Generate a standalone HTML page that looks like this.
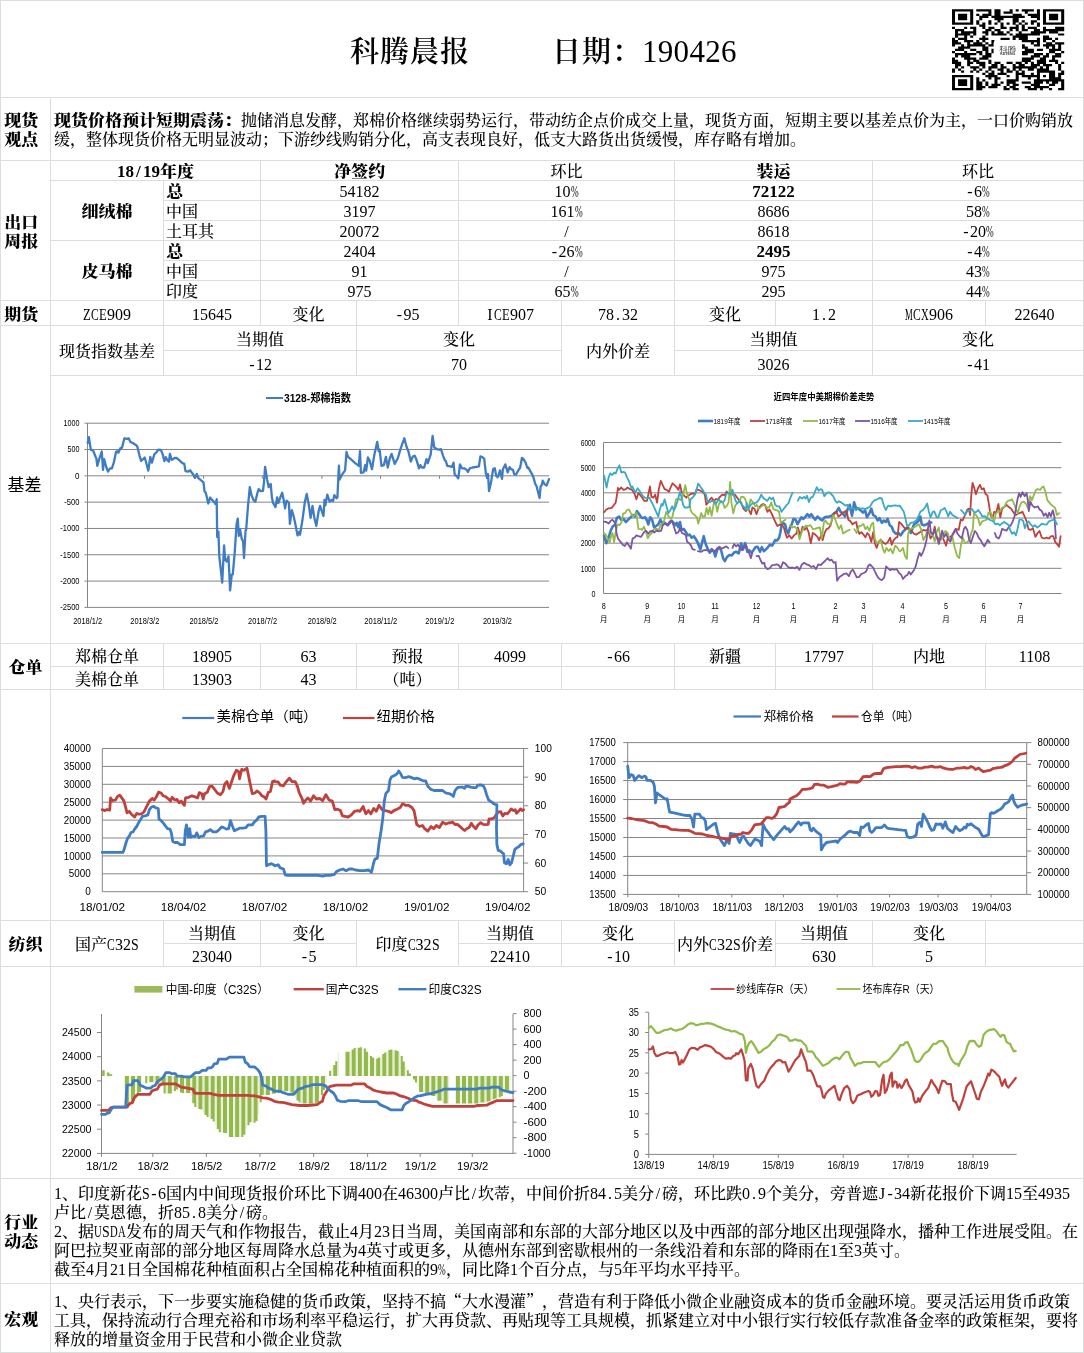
<!DOCTYPE html>
<html lang="zh-CN">
<head>
<meta charset="utf-8">
<title>科腾晨报</title>
<style>
*{margin:0;padding:0;box-sizing:border-box}
html,body{width:1084px;height:1353px;background:#fff;overflow:hidden}
body{position:relative;text-spacing-trim:space-all;font-family:"Liberation Serif","Noto Serif CJK SC",serif;font-size:16px;color:#000;line-height:19px;font-weight:500}
.h,.v{position:absolute;background:#dcdedd}
.h{height:1px}.v{width:1px}
.c{position:absolute;display:flex;align-items:center;justify-content:center;text-align:center;white-space:nowrap}
.c.b,b{font-weight:900;transform:scaleX(1.0625)}
b{display:inline-block;transform-origin:0 50%;margin-right:11px}
.a{display:inline-block;width:8px;text-align:center;transform-origin:0 50%;letter-spacing:0}
b .a,.b .a{width:8.5px}
.q{font-family:"Noto Serif CJK SC",serif}
.cc{justify-content:center !important;padding-left:0 !important;font-weight:normal !important;letter-spacing:0 !important}
.c.l{justify-content:flex-start;text-align:left;padding-left:3px;transform-origin:0 50%}
.c.lft{justify-content:flex-start;padding-left:2px;transform-origin:0 50%}
.t{position:absolute;white-space:nowrap}
.p{position:absolute;left:54px;white-space:nowrap;line-height:19px}
svg{position:absolute;overflow:visible}
svg text{font-family:"Liberation Sans","Noto Sans CJK SC",sans-serif}
.wp{transform:scaleX(0.578)}
.wC{transform:scaleX(0.722)}
.wS{transform:scaleX(0.864)}
.wZ{transform:scaleX(0.787)}
.wE{transform:scaleX(0.787)}
.wM{transform:scaleX(0.541)}
.wX{transform:scaleX(0.666)}
.wU{transform:scaleX(0.666)}
.wD{transform:scaleX(0.666)}
.wA{transform:scaleX(0.666)}
</style>
</head>
<body>
<div class="h" style="left:0px;top:0px;width:1084px"></div>
<div class="h" style="left:0px;top:97px;width:1084px"></div>
<div class="h" style="left:0px;top:160px;width:1084px"></div>
<div class="h" style="left:50px;top:180px;width:1034px"></div>
<div class="h" style="left:163px;top:200px;width:921px"></div>
<div class="h" style="left:163px;top:220px;width:921px"></div>
<div class="h" style="left:50px;top:240px;width:1034px"></div>
<div class="h" style="left:163px;top:260px;width:921px"></div>
<div class="h" style="left:163px;top:280px;width:921px"></div>
<div class="h" style="left:0px;top:300px;width:1084px"></div>
<div class="h" style="left:0px;top:325px;width:1084px"></div>
<div class="h" style="left:163px;top:350px;width:398px"></div>
<div class="h" style="left:674px;top:350px;width:410px"></div>
<div class="h" style="left:50px;top:375px;width:1034px"></div>
<div class="h" style="left:0px;top:643px;width:1084px"></div>
<div class="h" style="left:50px;top:666px;width:1034px"></div>
<div class="h" style="left:0px;top:689px;width:1084px"></div>
<div class="h" style="left:0px;top:920px;width:1084px"></div>
<div class="h" style="left:163px;top:943px;width:193px"></div>
<div class="h" style="left:458px;top:943px;width:216px"></div>
<div class="h" style="left:775px;top:943px;width:309px"></div>
<div class="h" style="left:0px;top:966px;width:1084px"></div>
<div class="h" style="left:0px;top:1178px;width:1084px"></div>
<div class="h" style="left:0px;top:1283px;width:1084px"></div>
<div class="h" style="left:0px;top:1352px;width:1084px"></div>
<div class="v" style="left:0px;top:0px;height:1353px"></div>
<div class="v" style="left:1083px;top:0px;height:1353px"></div>
<div class="v" style="left:50px;top:97px;height:1256px"></div>
<div class="v" style="left:163px;top:180px;height:195px"></div>
<div class="v" style="left:163px;top:643px;height:46px"></div>
<div class="v" style="left:163px;top:920px;height:46px"></div>
<div class="v" style="left:260px;top:160px;height:165px"></div>
<div class="v" style="left:260px;top:643px;height:46px"></div>
<div class="v" style="left:260px;top:920px;height:46px"></div>
<div class="v" style="left:356px;top:300px;height:75px"></div>
<div class="v" style="left:356px;top:643px;height:46px"></div>
<div class="v" style="left:356px;top:920px;height:46px"></div>
<div class="v" style="left:458px;top:160px;height:165px"></div>
<div class="v" style="left:458px;top:643px;height:46px"></div>
<div class="v" style="left:458px;top:920px;height:46px"></div>
<div class="v" style="left:561px;top:300px;height:75px"></div>
<div class="v" style="left:561px;top:643px;height:46px"></div>
<div class="v" style="left:561px;top:920px;height:46px"></div>
<div class="v" style="left:674px;top:160px;height:215px"></div>
<div class="v" style="left:674px;top:643px;height:46px"></div>
<div class="v" style="left:674px;top:920px;height:46px"></div>
<div class="v" style="left:775px;top:300px;height:25px"></div>
<div class="v" style="left:775px;top:643px;height:46px"></div>
<div class="v" style="left:775px;top:920px;height:46px"></div>
<div class="v" style="left:872px;top:160px;height:215px"></div>
<div class="v" style="left:872px;top:643px;height:46px"></div>
<div class="v" style="left:872px;top:920px;height:46px"></div>
<div class="v" style="left:985px;top:300px;height:25px"></div>
<div class="v" style="left:985px;top:643px;height:46px"></div>
<div class="v" style="left:985px;top:920px;height:46px"></div>
<div class="t" style="left:350px;top:34px;font-size:29px;letter-spacing:1px;line-height:36px;font-weight:600">科腾晨报</div>
<div class="t" style="left:552px;top:34px;font-size:29px;letter-spacing:1px;line-height:36px;font-weight:600">日期：<span style="font-size:31px;letter-spacing:0.3px;font-weight:500">190426</span></div>
<div class="c b l" style="left:1px;top:99px;width:49px;height:62px;">现货<br>观点</div>
<div class="c b l" style="left:1px;top:162px;width:49px;height:139px;">出口<br>周报</div>
<div class="c b l" style="left:1px;top:302px;width:49px;height:24px;">期货</div>
<div class="c cc" style="left:1px;top:327px;width:49px;height:317px;font-family:'Liberation Sans','Noto Sans CJK SC',sans-serif;font-size:17px;padding-right:2px !important;">基差</div>
<div class="c b" style="left:1px;top:645px;width:49px;height:45px;">仓单</div>
<div class="c b" style="left:1px;top:922px;width:49px;height:45px;">纺织</div>
<div class="c b l" style="left:1px;top:1180px;width:49px;height:104px;">行业<br>动态</div>
<div class="c b l" style="left:1px;top:1285px;width:49px;height:68px;">宏观</div>
<div class="c b" style="left:51px;top:162px;width:209px;height:19px;">18<span class="a">/</span>19年度</div>
<div class="c b" style="left:261px;top:162px;width:197px;height:19px;">净签约</div>
<div class="c " style="left:459px;top:162px;width:215px;height:19px;">环比</div>
<div class="c b" style="left:675px;top:162px;width:197px;height:19px;">装运</div>
<div class="c " style="left:873px;top:162px;width:210px;height:19px;">环比</div>
<div class="c b" style="left:51px;top:182px;width:112px;height:59px;">细绒棉</div>
<div class="c b" style="left:51px;top:242px;width:112px;height:59px;">皮马棉</div>
<div class="c lft b" style="left:164px;top:182px;width:96px;height:19px;">总</div>
<div class="c n" style="left:261px;top:182px;width:197px;height:19px;">54182</div>
<div class="c n" style="left:459px;top:182px;width:215px;height:19px;">10<span class="a wp">%</span></div>
<div class="c n b" style="left:675px;top:182px;width:197px;height:19px;">72122</div>
<div class="c n" style="left:873px;top:182px;width:210px;height:19px;"><span class="a">-</span>6<span class="a wp">%</span></div>
<div class="c lft" style="left:164px;top:202px;width:96px;height:19px;">中国</div>
<div class="c n" style="left:261px;top:202px;width:197px;height:19px;">3197</div>
<div class="c n" style="left:459px;top:202px;width:215px;height:19px;">161<span class="a wp">%</span></div>
<div class="c n" style="left:675px;top:202px;width:197px;height:19px;">8686</div>
<div class="c n" style="left:873px;top:202px;width:210px;height:19px;">58<span class="a wp">%</span></div>
<div class="c lft" style="left:164px;top:222px;width:96px;height:19px;">土耳其</div>
<div class="c n" style="left:261px;top:222px;width:197px;height:19px;">20072</div>
<div class="c n" style="left:459px;top:222px;width:215px;height:19px;"><span class="a">/</span></div>
<div class="c n" style="left:675px;top:222px;width:197px;height:19px;">8618</div>
<div class="c n" style="left:873px;top:222px;width:210px;height:19px;"><span class="a">-</span>20<span class="a wp">%</span></div>
<div class="c lft b" style="left:164px;top:242px;width:96px;height:19px;">总</div>
<div class="c n" style="left:261px;top:242px;width:197px;height:19px;">2404</div>
<div class="c n" style="left:459px;top:242px;width:215px;height:19px;"><span class="a">-</span>26<span class="a wp">%</span></div>
<div class="c n b" style="left:675px;top:242px;width:197px;height:19px;">2495</div>
<div class="c n" style="left:873px;top:242px;width:210px;height:19px;"><span class="a">-</span>4<span class="a wp">%</span></div>
<div class="c lft" style="left:164px;top:262px;width:96px;height:19px;">中国</div>
<div class="c n" style="left:261px;top:262px;width:197px;height:19px;">91</div>
<div class="c n" style="left:459px;top:262px;width:215px;height:19px;"><span class="a">/</span></div>
<div class="c n" style="left:675px;top:262px;width:197px;height:19px;">975</div>
<div class="c n" style="left:873px;top:262px;width:210px;height:19px;">43<span class="a wp">%</span></div>
<div class="c lft" style="left:164px;top:282px;width:96px;height:19px;">印度</div>
<div class="c n" style="left:261px;top:282px;width:197px;height:19px;">975</div>
<div class="c n" style="left:459px;top:282px;width:215px;height:19px;">65<span class="a wp">%</span></div>
<div class="c n" style="left:675px;top:282px;width:197px;height:19px;">295</div>
<div class="c n" style="left:873px;top:282px;width:210px;height:19px;">44<span class="a wp">%</span></div>
<div class="c " style="left:51px;top:302px;width:112px;height:24px;"><span class="a wZ">Z</span><span class="a wC">C</span><span class="a wE">E</span>909</div>
<div class="c " style="left:164px;top:302px;width:96px;height:24px;">15645</div>
<div class="c " style="left:261px;top:302px;width:95px;height:24px;">变化</div>
<div class="c " style="left:357px;top:302px;width:101px;height:24px;"><span class="a">-</span>95</div>
<div class="c " style="left:459px;top:302px;width:102px;height:24px;"><span class="a">I</span><span class="a wC">C</span><span class="a wE">E</span>907</div>
<div class="c " style="left:562px;top:302px;width:112px;height:24px;">78<span class="a">.</span>32</div>
<div class="c " style="left:675px;top:302px;width:100px;height:24px;">变化</div>
<div class="c " style="left:776px;top:302px;width:96px;height:24px;">1<span class="a">.</span>2</div>
<div class="c " style="left:873px;top:302px;width:112px;height:24px;"><span class="a wM">M</span><span class="a wC">C</span><span class="a wX">X</span>906</div>
<div class="c " style="left:986px;top:302px;width:97px;height:24px;">22640</div>
<div class="c " style="left:51px;top:327px;width:112px;height:49px;">现货指数基差</div>
<div class="c " style="left:164px;top:327px;width:192px;height:24px;">当期值</div>
<div class="c " style="left:357px;top:327px;width:204px;height:24px;">变化</div>
<div class="c " style="left:164px;top:352px;width:192px;height:24px;"><span class="a">-</span>12</div>
<div class="c " style="left:357px;top:352px;width:204px;height:24px;">70</div>
<div class="c " style="left:562px;top:327px;width:112px;height:49px;">内外价差</div>
<div class="c " style="left:675px;top:327px;width:197px;height:24px;">当期值</div>
<div class="c " style="left:873px;top:327px;width:210px;height:24px;">变化</div>
<div class="c " style="left:675px;top:352px;width:197px;height:24px;">3026</div>
<div class="c " style="left:873px;top:352px;width:210px;height:24px;"><span class="a">-</span>41</div>
<div class="c " style="left:51px;top:645px;width:112px;height:22px;">郑棉仓单</div>
<div class="c " style="left:164px;top:645px;width:96px;height:22px;">18905</div>
<div class="c " style="left:261px;top:645px;width:95px;height:22px;">63</div>
<div class="c " style="left:357px;top:645px;width:101px;height:22px;">预报</div>
<div class="c " style="left:459px;top:645px;width:102px;height:22px;">4099</div>
<div class="c " style="left:562px;top:645px;width:112px;height:22px;"><span class="a">-</span>66</div>
<div class="c " style="left:675px;top:645px;width:100px;height:22px;">新疆</div>
<div class="c " style="left:776px;top:645px;width:96px;height:22px;">17797</div>
<div class="c " style="left:873px;top:645px;width:112px;height:22px;">内地</div>
<div class="c " style="left:986px;top:645px;width:97px;height:22px;">1108</div>
<div class="c " style="left:51px;top:668px;width:112px;height:22px;">美棉仓单</div>
<div class="c " style="left:164px;top:668px;width:96px;height:22px;">13903</div>
<div class="c " style="left:261px;top:668px;width:95px;height:22px;">43</div>
<div class="c " style="left:357px;top:668px;width:101px;height:22px;">（吨）</div>
<div class="c " style="left:51px;top:922px;width:112px;height:45px;">国产<span class="a wC">C</span>32<span class="a wS">S</span></div>
<div class="c " style="left:164px;top:922px;width:96px;height:22px;">当期值</div>
<div class="c " style="left:261px;top:922px;width:95px;height:22px;">变化</div>
<div class="c " style="left:164px;top:945px;width:96px;height:22px;">23040</div>
<div class="c " style="left:261px;top:945px;width:95px;height:22px;"><span class="a">-</span>5</div>
<div class="c " style="left:357px;top:922px;width:101px;height:45px;">印度<span class="a wC">C</span>32<span class="a wS">S</span></div>
<div class="c " style="left:459px;top:922px;width:102px;height:22px;">当期值</div>
<div class="c " style="left:562px;top:922px;width:112px;height:22px;">变化</div>
<div class="c " style="left:459px;top:945px;width:102px;height:22px;">22410</div>
<div class="c " style="left:562px;top:945px;width:112px;height:22px;"><span class="a">-</span>10</div>
<div class="c " style="left:675px;top:922px;width:100px;height:45px;">内外<span class="a wC">C</span>32<span class="a wS">S</span>价差</div>
<div class="c " style="left:776px;top:922px;width:96px;height:22px;">当期值</div>
<div class="c " style="left:873px;top:922px;width:112px;height:22px;">变化</div>
<div class="c " style="left:776px;top:945px;width:96px;height:22px;">630</div>
<div class="c " style="left:873px;top:945px;width:112px;height:22px;">5</div>
<div class="p" style="top:111px"><b>现货价格预计短期震荡：</b>抛储消息发酵，郑棉价格继续弱势运行，带动纺企点价成交上量，现货方面，短期主要以基差点价为主，一口价购销放<br>缓，整体现货价格无明显波动；下游纱线购销分化，高支表现良好，低支大路货出货缓慢，库存略有增加。</div>
<div class="p" style="top:1184px">1、印度新花<span class="a wS">S</span><span class="a">-</span>6国内中间现货报价环比下调400在46300卢比<span class="a">/</span>坎蒂，中间价折84<span class="a">.</span>5美分<span class="a">/</span>磅，环比跌0<span class="a">.</span>9个美分，旁普遮<span class="a">J</span><span class="a">-</span>34新花报价下调15至4935<br>卢比<span class="a">/</span>莫恩德，折85<span class="a">.</span>8美分<span class="a">/</span>磅。<br>2、据<span class="a wU">U</span><span class="a wS">S</span><span class="a wD">D</span><span class="a wA">A</span>发布的周天气和作物报告，截止4月23日当周，美国南部和东部的大部分地区以及中西部的部分地区出现强降水，播种工作进展受阻。在<br>阿巴拉契亚南部的部分地区每周降水总量为4英寸或更多，从德州东部到密歇根州的一条线沿着和东部的降雨在1至3英寸。<br>截至4月21日全国棉花种植面积占全国棉花种植面积的9<span class="a wp">%</span>，同比降1个百分点，与5年平均水平持平。</div>
<div class="p" style="top:1291px">1、央行表示，下一步要实施稳健的货币政策，坚持不搞<span class="q">“</span>大水漫灌<span class="q">”</span>，营造有利于降低小微企业融资成本的货币金融环境。要灵活运用货币政策<br>工具，保持流动行合理充裕和市场利率平稳运行，扩大再贷款、再贴现等工具规模，抓紧建立对中小银行实行较低存款准备金率的政策框架，要将<br>释放的增量资金用于民营和小微企业贷款</div>
<svg width="1084" height="100" viewBox="0 0 1084 100" style="left:0;top:0">
<path d="M952.00 9.30h21.23v2.24h-21.23zM976.26 9.30h15.16v2.24h-15.16zM994.45 9.30h6.06v2.24h-6.06zM1009.62 9.30h3.03v2.24h-3.03zM1015.68 9.30h3.03v2.24h-3.03zM1021.75 9.30h12.13v2.24h-12.13zM1036.91 9.30h3.03v2.24h-3.03zM1042.97 9.30h21.23v2.24h-21.23zM952.00 11.49h3.03v2.24h-3.03zM970.19 11.49h3.03v2.24h-3.03zM988.39 11.49h3.03v2.24h-3.03zM994.45 11.49h6.06v2.24h-6.06zM1003.55 11.49h9.10v2.24h-9.10zM1024.78 11.49h3.03v2.24h-3.03zM1036.91 11.49h3.03v2.24h-3.03zM1042.97 11.49h3.03v2.24h-3.03zM1061.17 11.49h3.03v2.24h-3.03zM952.00 13.68h3.03v2.24h-3.03zM958.06 13.68h9.10v2.24h-9.10zM970.19 13.68h3.03v2.24h-3.03zM976.26 13.68h3.03v2.24h-3.03zM982.32 13.68h9.10v2.24h-9.10zM994.45 13.68h6.06v2.24h-6.06zM1012.65 13.68h9.10v2.24h-9.10zM1027.81 13.68h12.13v2.24h-12.13zM1042.97 13.68h3.03v2.24h-3.03zM1049.04 13.68h9.10v2.24h-9.10zM1061.17 13.68h3.03v2.24h-3.03zM952.00 15.87h3.03v2.24h-3.03zM958.06 15.87h9.10v2.24h-9.10zM970.19 15.87h3.03v2.24h-3.03zM979.29 15.87h9.10v2.24h-9.10zM991.42 15.87h33.36v2.24h-33.36zM1030.84 15.87h9.10v2.24h-9.10zM1042.97 15.87h3.03v2.24h-3.03zM1049.04 15.87h9.10v2.24h-9.10zM1061.17 15.87h3.03v2.24h-3.03zM952.00 18.06h3.03v2.24h-3.03zM958.06 18.06h9.10v2.24h-9.10zM970.19 18.06h3.03v2.24h-3.03zM979.29 18.06h3.03v2.24h-3.03zM994.45 18.06h9.10v2.24h-9.10zM1012.65 18.06h6.06v2.24h-6.06zM1036.91 18.06h3.03v2.24h-3.03zM1042.97 18.06h3.03v2.24h-3.03zM1049.04 18.06h9.10v2.24h-9.10zM1061.17 18.06h3.03v2.24h-3.03zM952.00 20.25h3.03v2.24h-3.03zM970.19 20.25h3.03v2.24h-3.03zM976.26 20.25h3.03v2.24h-3.03zM988.39 20.25h3.03v2.24h-3.03zM997.49 20.25h3.03v2.24h-3.03zM1012.65 20.25h6.06v2.24h-6.06zM1021.75 20.25h3.03v2.24h-3.03zM1030.84 20.25h6.06v2.24h-6.06zM1042.97 20.25h3.03v2.24h-3.03zM1061.17 20.25h3.03v2.24h-3.03zM952.00 22.44h21.23v2.24h-21.23zM976.26 22.44h3.03v2.24h-3.03zM982.32 22.44h3.03v2.24h-3.03zM988.39 22.44h3.03v2.24h-3.03zM994.45 22.44h3.03v2.24h-3.03zM1000.52 22.44h3.03v2.24h-3.03zM1006.58 22.44h3.03v2.24h-3.03zM1012.65 22.44h3.03v2.24h-3.03zM1018.71 22.44h3.03v2.24h-3.03zM1024.78 22.44h3.03v2.24h-3.03zM1030.84 22.44h3.03v2.24h-3.03zM1036.91 22.44h3.03v2.24h-3.03zM1042.97 22.44h21.23v2.24h-21.23zM979.29 24.62h6.06v2.24h-6.06zM1000.52 24.62h3.03v2.24h-3.03zM1015.68 24.62h3.03v2.24h-3.03zM1021.75 24.62h3.03v2.24h-3.03zM1036.91 24.62h3.03v2.24h-3.03zM952.00 26.81h3.03v2.24h-3.03zM964.13 26.81h3.03v2.24h-3.03zM970.19 26.81h6.06v2.24h-6.06zM982.32 26.81h3.03v2.24h-3.03zM988.39 26.81h6.06v2.24h-6.06zM1000.52 26.81h6.06v2.24h-6.06zM1009.62 26.81h9.10v2.24h-9.10zM1021.75 26.81h3.03v2.24h-3.03zM1027.81 26.81h9.10v2.24h-9.10zM1042.97 26.81h3.03v2.24h-3.03zM1055.10 26.81h9.10v2.24h-9.10zM955.03 29.00h9.10v2.24h-9.10zM973.23 29.00h3.03v2.24h-3.03zM985.36 29.00h6.06v2.24h-6.06zM994.45 29.00h6.06v2.24h-6.06zM1009.62 29.00h3.03v2.24h-3.03zM1015.68 29.00h3.03v2.24h-3.03zM1021.75 29.00h6.06v2.24h-6.06zM1033.88 29.00h6.06v2.24h-6.06zM1042.97 29.00h21.23v2.24h-21.23zM955.03 31.19h3.03v2.24h-3.03zM961.10 31.19h15.16v2.24h-15.16zM982.32 31.19h6.06v2.24h-6.06zM991.42 31.19h3.03v2.24h-3.03zM997.49 31.19h6.06v2.24h-6.06zM1006.58 31.19h3.03v2.24h-3.03zM1018.71 31.19h3.03v2.24h-3.03zM1030.84 31.19h15.16v2.24h-15.16zM1049.04 31.19h9.10v2.24h-9.10zM955.03 33.38h15.16v2.24h-15.16zM973.23 33.38h3.03v2.24h-3.03zM985.36 33.38h3.03v2.24h-3.03zM991.42 33.38h15.16v2.24h-15.16zM1009.62 33.38h3.03v2.24h-3.03zM1015.68 33.38h24.26v2.24h-24.26zM1058.14 33.38h6.06v2.24h-6.06zM955.03 35.57h3.03v2.24h-3.03zM964.13 35.57h3.03v2.24h-3.03zM970.19 35.57h3.03v2.24h-3.03zM982.32 35.57h3.03v2.24h-3.03zM1012.65 35.57h15.16v2.24h-15.16zM1042.97 35.57h6.06v2.24h-6.06zM952.00 37.76h3.03v2.24h-3.03zM958.06 37.76h9.10v2.24h-9.10zM979.29 37.76h9.10v2.24h-9.10zM1000.52 37.76h9.10v2.24h-9.10zM1012.65 37.76h3.03v2.24h-3.03zM1018.71 37.76h9.10v2.24h-9.10zM1036.91 37.76h3.03v2.24h-3.03zM1042.97 37.76h9.10v2.24h-9.10zM1055.10 37.76h3.03v2.24h-3.03zM952.00 39.95h6.06v2.24h-6.06zM964.13 39.95h9.10v2.24h-9.10zM976.26 39.95h3.03v2.24h-3.03zM982.32 39.95h3.03v2.24h-3.03zM991.42 39.95h3.03v2.24h-3.03zM1021.75 39.95h18.19v2.24h-18.19zM1042.97 39.95h3.03v2.24h-3.03zM1052.07 39.95h3.03v2.24h-3.03zM952.00 42.14h9.10v2.24h-9.10zM967.16 42.14h3.03v2.24h-3.03zM973.23 42.14h9.10v2.24h-9.10zM985.36 42.14h3.03v2.24h-3.03zM991.42 42.14h3.03v2.24h-3.03zM1030.84 42.14h3.03v2.24h-3.03zM1036.91 42.14h3.03v2.24h-3.03zM1046.01 42.14h6.06v2.24h-6.06zM1055.10 42.14h9.10v2.24h-9.10zM952.00 44.33h3.03v2.24h-3.03zM961.10 44.33h3.03v2.24h-3.03zM967.16 44.33h18.19v2.24h-18.19zM988.39 44.33h6.06v2.24h-6.06zM1021.75 44.33h3.03v2.24h-3.03zM1033.88 44.33h6.06v2.24h-6.06zM1042.97 44.33h12.13v2.24h-12.13zM1058.14 44.33h3.03v2.24h-3.03zM958.06 46.52h12.13v2.24h-12.13zM982.32 46.52h6.06v2.24h-6.06zM1021.75 46.52h6.06v2.24h-6.06zM1046.01 46.52h3.03v2.24h-3.03zM1052.07 46.52h3.03v2.24h-3.03zM1058.14 46.52h3.03v2.24h-3.03zM955.03 48.71h9.10v2.24h-9.10zM970.19 48.71h6.06v2.24h-6.06zM982.32 48.71h6.06v2.24h-6.06zM991.42 48.71h3.03v2.24h-3.03zM1024.78 48.71h9.10v2.24h-9.10zM1036.91 48.71h6.06v2.24h-6.06zM1049.04 48.71h12.13v2.24h-12.13zM952.00 50.89h3.03v2.24h-3.03zM964.13 50.89h3.03v2.24h-3.03zM976.26 50.89h6.06v2.24h-6.06zM985.36 50.89h3.03v2.24h-3.03zM991.42 50.89h3.03v2.24h-3.03zM1021.75 50.89h12.13v2.24h-12.13zM1049.04 50.89h6.06v2.24h-6.06zM1061.17 50.89h3.03v2.24h-3.03zM955.03 53.08h21.23v2.24h-21.23zM979.29 53.08h3.03v2.24h-3.03zM985.36 53.08h6.06v2.24h-6.06zM1021.75 53.08h6.06v2.24h-6.06zM1033.88 53.08h9.10v2.24h-9.10zM1046.01 53.08h3.03v2.24h-3.03zM1055.10 53.08h6.06v2.24h-6.06zM955.03 55.27h3.03v2.24h-3.03zM961.10 55.27h9.10v2.24h-9.10zM982.32 55.27h9.10v2.24h-9.10zM1030.84 55.27h9.10v2.24h-9.10zM1042.97 55.27h6.06v2.24h-6.06zM1052.07 55.27h9.10v2.24h-9.10zM952.00 57.46h3.03v2.24h-3.03zM964.13 57.46h12.13v2.24h-12.13zM979.29 57.46h9.10v2.24h-9.10zM1021.75 57.46h12.13v2.24h-12.13zM1039.94 57.46h6.06v2.24h-6.06zM1052.07 57.46h3.03v2.24h-3.03zM952.00 59.65h6.06v2.24h-6.06zM967.16 59.65h3.03v2.24h-3.03zM973.23 59.65h6.06v2.24h-6.06zM988.39 59.65h3.03v2.24h-3.03zM1021.75 59.65h9.10v2.24h-9.10zM1036.91 59.65h9.10v2.24h-9.10zM1049.04 59.65h9.10v2.24h-9.10zM952.00 61.84h9.10v2.24h-9.10zM967.16 61.84h6.06v2.24h-6.06zM976.26 61.84h9.10v2.24h-9.10zM988.39 61.84h3.03v2.24h-3.03zM994.45 61.84h6.06v2.24h-6.06zM1006.58 61.84h6.06v2.24h-6.06zM1015.68 61.84h6.06v2.24h-6.06zM1024.78 61.84h3.03v2.24h-3.03zM1030.84 61.84h3.03v2.24h-3.03zM1036.91 61.84h9.10v2.24h-9.10zM1055.10 61.84h3.03v2.24h-3.03zM1061.17 61.84h3.03v2.24h-3.03zM955.03 64.03h6.06v2.24h-6.06zM967.16 64.03h3.03v2.24h-3.03zM979.29 64.03h6.06v2.24h-6.06zM991.42 64.03h6.06v2.24h-6.06zM1000.52 64.03h3.03v2.24h-3.03zM1012.65 64.03h3.03v2.24h-3.03zM1018.71 64.03h6.06v2.24h-6.06zM1030.84 64.03h9.10v2.24h-9.10zM1042.97 64.03h9.10v2.24h-9.10zM1058.14 64.03h3.03v2.24h-3.03zM955.03 66.22h3.03v2.24h-3.03zM961.10 66.22h3.03v2.24h-3.03zM970.19 66.22h9.10v2.24h-9.10zM982.32 66.22h3.03v2.24h-3.03zM988.39 66.22h9.10v2.24h-9.10zM1000.52 66.22h6.06v2.24h-6.06zM1012.65 66.22h24.26v2.24h-24.26zM1039.94 66.22h3.03v2.24h-3.03zM1046.01 66.22h3.03v2.24h-3.03zM1058.14 66.22h3.03v2.24h-3.03zM952.00 68.41h3.03v2.24h-3.03zM958.06 68.41h3.03v2.24h-3.03zM973.23 68.41h3.03v2.24h-3.03zM979.29 68.41h3.03v2.24h-3.03zM988.39 68.41h3.03v2.24h-3.03zM997.49 68.41h6.06v2.24h-6.06zM1006.58 68.41h3.03v2.24h-3.03zM1012.65 68.41h3.03v2.24h-3.03zM1018.71 68.41h3.03v2.24h-3.03zM1027.81 68.41h6.06v2.24h-6.06zM1036.91 68.41h12.13v2.24h-12.13zM1058.14 68.41h3.03v2.24h-3.03zM952.00 70.60h3.03v2.24h-3.03zM961.10 70.60h3.03v2.24h-3.03zM970.19 70.60h3.03v2.24h-3.03zM976.26 70.60h3.03v2.24h-3.03zM985.36 70.60h3.03v2.24h-3.03zM991.42 70.60h3.03v2.24h-3.03zM1000.52 70.60h3.03v2.24h-3.03zM1006.58 70.60h6.06v2.24h-6.06zM1015.68 70.60h3.03v2.24h-3.03zM1021.75 70.60h3.03v2.24h-3.03zM1036.91 70.60h18.19v2.24h-18.19zM1061.17 70.60h3.03v2.24h-3.03zM982.32 72.79h3.03v2.24h-3.03zM988.39 72.79h6.06v2.24h-6.06zM997.49 72.79h9.10v2.24h-9.10zM1015.68 72.79h9.10v2.24h-9.10zM1030.84 72.79h3.03v2.24h-3.03zM1036.91 72.79h3.03v2.24h-3.03zM1049.04 72.79h6.06v2.24h-6.06zM1058.14 72.79h6.06v2.24h-6.06zM952.00 74.98h21.23v2.24h-21.23zM985.36 74.98h12.13v2.24h-12.13zM1006.58 74.98h3.03v2.24h-3.03zM1015.68 74.98h3.03v2.24h-3.03zM1021.75 74.98h18.19v2.24h-18.19zM1042.97 74.98h3.03v2.24h-3.03zM1049.04 74.98h6.06v2.24h-6.06zM1058.14 74.98h3.03v2.24h-3.03zM952.00 77.16h3.03v2.24h-3.03zM970.19 77.16h3.03v2.24h-3.03zM976.26 77.16h3.03v2.24h-3.03zM988.39 77.16h3.03v2.24h-3.03zM994.45 77.16h6.06v2.24h-6.06zM1015.68 77.16h3.03v2.24h-3.03zM1027.81 77.16h3.03v2.24h-3.03zM1036.91 77.16h3.03v2.24h-3.03zM1049.04 77.16h12.13v2.24h-12.13zM952.00 79.35h3.03v2.24h-3.03zM958.06 79.35h9.10v2.24h-9.10zM970.19 79.35h3.03v2.24h-3.03zM976.26 79.35h3.03v2.24h-3.03zM982.32 79.35h3.03v2.24h-3.03zM994.45 79.35h3.03v2.24h-3.03zM1006.58 79.35h12.13v2.24h-12.13zM1033.88 79.35h30.32v2.24h-30.32zM952.00 81.54h3.03v2.24h-3.03zM958.06 81.54h9.10v2.24h-9.10zM970.19 81.54h3.03v2.24h-3.03zM976.26 81.54h6.06v2.24h-6.06zM985.36 81.54h3.03v2.24h-3.03zM994.45 81.54h3.03v2.24h-3.03zM1000.52 81.54h3.03v2.24h-3.03zM1006.58 81.54h9.10v2.24h-9.10zM1021.75 81.54h9.10v2.24h-9.10zM1033.88 81.54h9.10v2.24h-9.10zM1046.01 81.54h3.03v2.24h-3.03zM1052.07 81.54h6.06v2.24h-6.06zM1061.17 81.54h3.03v2.24h-3.03zM952.00 83.73h3.03v2.24h-3.03zM958.06 83.73h9.10v2.24h-9.10zM970.19 83.73h3.03v2.24h-3.03zM976.26 83.73h6.06v2.24h-6.06zM985.36 83.73h3.03v2.24h-3.03zM991.42 83.73h9.10v2.24h-9.10zM1006.58 83.73h3.03v2.24h-3.03zM1012.65 83.73h6.06v2.24h-6.06zM1030.84 83.73h9.10v2.24h-9.10zM1049.04 83.73h6.06v2.24h-6.06zM1061.17 83.73h3.03v2.24h-3.03zM952.00 85.92h3.03v2.24h-3.03zM970.19 85.92h3.03v2.24h-3.03zM976.26 85.92h9.10v2.24h-9.10zM988.39 85.92h9.10v2.24h-9.10zM1003.55 85.92h3.03v2.24h-3.03zM1009.62 85.92h6.06v2.24h-6.06zM1024.78 85.92h6.06v2.24h-6.06zM1033.88 85.92h15.16v2.24h-15.16zM1061.17 85.92h3.03v2.24h-3.03zM952.00 88.11h21.23v2.24h-21.23zM976.26 88.11h6.06v2.24h-6.06zM1003.55 88.11h6.06v2.24h-6.06zM1012.65 88.11h6.06v2.24h-6.06zM1027.81 88.11h9.10v2.24h-9.10zM1039.94 88.11h3.03v2.24h-3.03zM1049.04 88.11h3.03v2.24h-3.03zM1058.14 88.11h6.06v2.24h-6.06z" fill="#000"/>
<rect x="993.6" y="40.4" width="28.4" height="20" rx="3" fill="#fff"/>
<text x="1007.8" y="51" font-size="5.5" text-anchor="middle" font-weight="normal" fill="#333" textLength="17" lengthAdjust="spacingAndGlyphs">科腾</text>
<text x="1007.8" y="55" font-size="2.6" text-anchor="middle" font-weight="bold" fill="#333" textLength="15" lengthAdjust="spacingAndGlyphs">KETENG</text>
</svg>
<svg width="1084" height="1353" viewBox="0 0 1084 1353" style="left:0;top:0">
<rect x="84.5" y="422.7" width="464.5" height="1" fill="#858585"/>
<text x="79.5" y="426" font-size="9" text-anchor="end" font-weight="normal" fill="#000" textLength="16" lengthAdjust="spacingAndGlyphs" >1000</text>
<rect x="84.5" y="449.014" width="464.5" height="1" fill="#858585"/>
<text x="79.5" y="452.314" font-size="9" text-anchor="end" font-weight="normal" fill="#000" textLength="12" lengthAdjust="spacingAndGlyphs" >500</text>
<rect x="84.5" y="475.329" width="464.5" height="1" fill="#858585"/>
<text x="79.5" y="478.629" font-size="9" text-anchor="end" font-weight="normal" fill="#000" textLength="4.5" lengthAdjust="spacingAndGlyphs" >0</text>
<rect x="84.5" y="501.643" width="464.5" height="1" fill="#858585"/>
<text x="79.5" y="504.943" font-size="9" text-anchor="end" font-weight="normal" fill="#000" textLength="15.2" lengthAdjust="spacingAndGlyphs" >-500</text>
<rect x="84.5" y="527.957" width="464.5" height="1" fill="#858585"/>
<text x="79.5" y="531.257" font-size="9" text-anchor="end" font-weight="normal" fill="#000" textLength="19.2" lengthAdjust="spacingAndGlyphs" >-1000</text>
<rect x="84.5" y="554.271" width="464.5" height="1" fill="#858585"/>
<text x="79.5" y="557.571" font-size="9" text-anchor="end" font-weight="normal" fill="#000" textLength="19.2" lengthAdjust="spacingAndGlyphs" >-1500</text>
<rect x="84.5" y="580.586" width="464.5" height="1" fill="#858585"/>
<text x="79.5" y="583.886" font-size="9" text-anchor="end" font-weight="normal" fill="#000" textLength="19.2" lengthAdjust="spacingAndGlyphs" >-2000</text>
<rect x="84.5" y="606.9" width="464.5" height="1" fill="#858585"/>
<text x="79.5" y="610.2" font-size="9" text-anchor="end" font-weight="normal" fill="#000" textLength="19.2" lengthAdjust="spacingAndGlyphs" >-2500</text>
<rect x="87" y="423.2" width="1" height="184.2" fill="#858585"/>
<text x="87.7" y="624" font-size="9" text-anchor="middle" font-weight="normal" fill="#000" textLength="29" lengthAdjust="spacingAndGlyphs" >2018/1/2</text>
<rect x="144" y="475.829" width="1" height="3" fill="#858585"/>
<text x="144.8" y="624" font-size="9" text-anchor="middle" font-weight="normal" fill="#000" textLength="29" lengthAdjust="spacingAndGlyphs" >2018/3/2</text>
<rect x="203.1" y="475.829" width="1" height="3" fill="#858585"/>
<text x="203.9" y="624" font-size="9" text-anchor="middle" font-weight="normal" fill="#000" textLength="29" lengthAdjust="spacingAndGlyphs" >2018/5/2</text>
<rect x="261.8" y="475.829" width="1" height="3" fill="#858585"/>
<text x="262.6" y="624" font-size="9" text-anchor="middle" font-weight="normal" fill="#000" textLength="29" lengthAdjust="spacingAndGlyphs" >2018/7/2</text>
<rect x="321.4" y="475.829" width="1" height="3" fill="#858585"/>
<text x="322.2" y="624" font-size="9" text-anchor="middle" font-weight="normal" fill="#000" textLength="29" lengthAdjust="spacingAndGlyphs" >2018/9/2</text>
<rect x="380" y="475.829" width="1" height="3" fill="#858585"/>
<text x="380.8" y="624" font-size="9" text-anchor="middle" font-weight="normal" fill="#000" textLength="33" lengthAdjust="spacingAndGlyphs" >2018/11/2</text>
<rect x="439" y="475.829" width="1" height="3" fill="#858585"/>
<text x="439.8" y="624" font-size="9" text-anchor="middle" font-weight="normal" fill="#000" textLength="29" lengthAdjust="spacingAndGlyphs" >2019/1/2</text>
<rect x="496.6" y="475.829" width="1" height="3" fill="#858585"/>
<text x="497.4" y="624" font-size="9" text-anchor="middle" font-weight="normal" fill="#000" textLength="29" lengthAdjust="spacingAndGlyphs" >2019/3/2</text>
<polyline points="87.7,442.8 88.9,437.1 90.8,449.6 93.2,450.8 95.6,456.8 96.3,458 97.3,465.9 99.2,459.2 101.8,451.5 103,469.9 104.2,459.2 106.4,467.5 108,471.6 110,468.3 111.9,468.3 113.8,462.7 116,452 117.2,451.2 118.4,452.7 120.3,448.4 122,447.6 124.4,438.3 126.8,438.8 128.7,438.3 130.4,441.9 132.7,443.1 136.3,445.2 137.5,447.2 139.5,455.6 141.1,460.8 143.1,459.2 144.7,457.5 145.9,461.5 148.3,470.7 150.3,456.8 151.9,462.7 154.3,454.4 156.7,452 158.4,449.6 160.8,449.8 162.7,454.4 164.4,461.1 165.8,457.2 167.5,460.4 169,461.5 169.9,453.9 171.8,459.9 174.7,458 176.6,458 179.5,460.4 182.4,463.2 184.3,463.9 185.5,471.1 187.9,471.6 190.3,470.4 191.5,472.3 193.4,474.7 194.9,477.9 196.8,474 198.2,477.9 201.1,480.3 203.5,482.4 204.5,491.1 205.9,493.2 208.3,503.5 210.2,497.5 212.1,499.9 214.3,502.3 215.5,504 216.7,499.2 217.2,537.1 218.4,531.6 219.3,556.3 220.8,569.5 222.2,582.7 224.1,545.5 225.1,558.7 226.5,561.6 228.5,556.3 230.1,590.4 231.8,574.3 232.8,574.3 234.7,552.7 236.6,523.9 237.8,518.6 238.8,535.9 240,529.2 241.9,539.5 243.1,540.7 244,558 245.5,531.1 246.2,529.2 247.9,507.1 249.8,487.2 251.5,495.1 253.4,499.9 255.3,501.8 257.5,492.7 258.7,489.1 260.6,491.1 263,490.8 263.9,483.1 265.1,466.8 267.1,479.5 268.7,487.2 270.7,483.9 271.9,497.5 273.1,503 275.5,507.1 277.1,497.5 278.3,503 280.3,497.5 282.2,492.7 283.9,501.1 285.1,508.3 286.5,500.6 288.9,502.8 289.9,523.9 291.8,510.2 293.5,515.5 295.8,526.3 297.5,535.4 299.4,531.6 300,534.7 302.4,520.3 304.8,502.3 306.7,493.9 308.6,503.5 310.6,517.9 312.5,505.9 314.4,517.9 316.3,525.8 318.7,510.7 320.1,505.9 321.6,510.7 323.5,516 324.5,499.9 325.4,505.4 327.3,494.6 329.7,501.6 331.7,499.9 333.1,501.1 334.3,495.1 336.5,498.2 337.4,497.5 338.9,465.6 339.6,479.5 342,474.7 345.1,470.4 346.5,452 348,456.8 351.6,459.9 355.2,463.2 358.8,465.9 360,451.2 360.9,472.8 363.6,472.3 365.2,465.1 366.2,470.7 367.9,457.5 369.6,460.4 372,469.2 374.4,454.4 377.2,441.9 378.7,451.2 379.6,449.6 381.5,465.9 383.9,465.1 385.9,456.8 387.8,467.5 389.9,458 391.6,453.9 394.7,463.9 397.9,458 400.7,448.4 404.3,438.3 406.7,447.2 408.4,451.2 410.8,461.5 412.7,456.8 414.6,455.6 416.3,459.2 419,468.3 420.4,465.1 421.8,467.5 424.2,467.5 426.4,459.2 427.8,463.2 430.7,454.4 432.6,435.9 434.3,447.6 436.7,449.1 439.1,449.6 441,449.1 443,455.6 444.9,460.4 445.8,461.1 447.3,465.9 449.9,466.3 452.1,466.8 453.5,462.7 454.7,474.7 456.4,475.9 458.3,478.3 460,464.4 461.9,468.3 464.3,468.3 466.7,469.9 467.9,471.9 469.8,468.3 472.7,467.5 476.3,466.8 478.9,466.3 480.4,456.3 482.3,457.2 484.2,458.7 485.9,473.5 487.1,477.9 488,474 489,491.1 490.9,483.1 493.1,469.2 494.8,468.3 496.2,475.9 498.1,476.7 500,470.4 502,478.8 502.9,469.2 505.3,464.4 507.7,472.3 509.6,467.1 511.1,469.2 513,469.9 514.2,474.3 515.9,474.7 518.3,470.4 520.2,467.5 521.9,458 523.5,459.2 525.5,462.3 527.4,468 528.3,467.5 530.3,471.1 532.2,474.3 533.6,477.9 535.1,483.6 536.5,486 537.9,491.5 539.6,498 540.6,486.3 541.8,485.1 542.7,480.7 544.6,484.3 546.6,485.5 548,481.9 549,479.1" fill="none" stroke="#3f7cc4" stroke-width="2.3" stroke-linejoin="round" stroke-linecap="round" />
<rect x="266" y="397" width="17" height="2" fill="#3f7cc4"/>
<text x="284" y="402" font-size="11" text-anchor="start" font-weight="bold" fill="#000" textLength="67" lengthAdjust="spacingAndGlyphs" >3128-郑棉指数</text>
</svg>
<svg width="1084" height="1353" viewBox="0 0 1084 1353" style="left:0;top:0">
<rect x="603.5" y="442" width="458" height="1" fill="#858585"/>
<text x="595.5" y="445.8" font-size="9" text-anchor="end" font-weight="normal" fill="#000" textLength="14.8" lengthAdjust="spacingAndGlyphs" >6000</text>
<rect x="603.5" y="467.167" width="458" height="1" fill="#858585"/>
<text x="595.5" y="470.967" font-size="9" text-anchor="end" font-weight="normal" fill="#000" textLength="14.8" lengthAdjust="spacingAndGlyphs" >5000</text>
<rect x="603.5" y="492.333" width="458" height="1" fill="#858585"/>
<text x="595.5" y="496.133" font-size="9" text-anchor="end" font-weight="normal" fill="#000" textLength="14.8" lengthAdjust="spacingAndGlyphs" >4000</text>
<rect x="603.5" y="517.5" width="458" height="1" fill="#858585"/>
<text x="595.5" y="521.3" font-size="9" text-anchor="end" font-weight="normal" fill="#000" textLength="14.8" lengthAdjust="spacingAndGlyphs" >3000</text>
<rect x="603.5" y="542.667" width="458" height="1" fill="#858585"/>
<text x="595.5" y="546.467" font-size="9" text-anchor="end" font-weight="normal" fill="#000" textLength="14.8" lengthAdjust="spacingAndGlyphs" >2000</text>
<rect x="603.5" y="567.833" width="458" height="1" fill="#858585"/>
<text x="595.5" y="571.633" font-size="9" text-anchor="end" font-weight="normal" fill="#000" textLength="14.8" lengthAdjust="spacingAndGlyphs" >1000</text>
<rect x="603.5" y="593" width="458" height="1" fill="#858585"/>
<text x="595.5" y="596.8" font-size="9" text-anchor="end" font-weight="normal" fill="#000" textLength="4" lengthAdjust="spacingAndGlyphs" >0</text>
<rect x="603" y="442.5" width="1" height="151" fill="#858585"/>
<text x="603.8" y="609" font-size="9" text-anchor="middle" font-weight="normal" fill="#000" textLength="4" lengthAdjust="spacingAndGlyphs" >8</text>
<text x="603.8" y="621.5" font-size="7.5" text-anchor="middle" font-weight="normal" fill="#000" >月</text>
<text x="647.2" y="609" font-size="9" text-anchor="middle" font-weight="normal" fill="#000" textLength="4" lengthAdjust="spacingAndGlyphs" >9</text>
<text x="647.2" y="621.5" font-size="7.5" text-anchor="middle" font-weight="normal" fill="#000" >月</text>
<text x="681.5" y="609" font-size="9" text-anchor="middle" font-weight="normal" fill="#000" textLength="7.5" lengthAdjust="spacingAndGlyphs" >10</text>
<text x="681.5" y="621.5" font-size="7.5" text-anchor="middle" font-weight="normal" fill="#000" >月</text>
<text x="715.1" y="609" font-size="9" text-anchor="middle" font-weight="normal" fill="#000" textLength="7.5" lengthAdjust="spacingAndGlyphs" >11</text>
<text x="715.1" y="621.5" font-size="7.5" text-anchor="middle" font-weight="normal" fill="#000" >月</text>
<text x="756.4" y="609" font-size="9" text-anchor="middle" font-weight="normal" fill="#000" textLength="7.5" lengthAdjust="spacingAndGlyphs" >12</text>
<text x="756.4" y="621.5" font-size="7.5" text-anchor="middle" font-weight="normal" fill="#000" >月</text>
<text x="793.6" y="609" font-size="9" text-anchor="middle" font-weight="normal" fill="#000" textLength="4" lengthAdjust="spacingAndGlyphs" >1</text>
<text x="793.6" y="621.5" font-size="7.5" text-anchor="middle" font-weight="normal" fill="#000" >月</text>
<text x="835.5" y="609" font-size="9" text-anchor="middle" font-weight="normal" fill="#000" textLength="4" lengthAdjust="spacingAndGlyphs" >2</text>
<text x="835.5" y="621.5" font-size="7.5" text-anchor="middle" font-weight="normal" fill="#000" >月</text>
<text x="863.5" y="609" font-size="9" text-anchor="middle" font-weight="normal" fill="#000" textLength="4" lengthAdjust="spacingAndGlyphs" >3</text>
<text x="863.5" y="621.5" font-size="7.5" text-anchor="middle" font-weight="normal" fill="#000" >月</text>
<text x="902.5" y="609" font-size="9" text-anchor="middle" font-weight="normal" fill="#000" textLength="4" lengthAdjust="spacingAndGlyphs" >4</text>
<text x="902.5" y="621.5" font-size="7.5" text-anchor="middle" font-weight="normal" fill="#000" >月</text>
<text x="946" y="609" font-size="9" text-anchor="middle" font-weight="normal" fill="#000" textLength="4" lengthAdjust="spacingAndGlyphs" >5</text>
<text x="946" y="621.5" font-size="7.5" text-anchor="middle" font-weight="normal" fill="#000" >月</text>
<text x="983.5" y="609" font-size="9" text-anchor="middle" font-weight="normal" fill="#000" textLength="4" lengthAdjust="spacingAndGlyphs" >6</text>
<text x="983.5" y="621.5" font-size="7.5" text-anchor="middle" font-weight="normal" fill="#000" >月</text>
<text x="1020.5" y="609" font-size="9" text-anchor="middle" font-weight="normal" fill="#000" textLength="4" lengthAdjust="spacingAndGlyphs" >7</text>
<text x="1020.5" y="621.5" font-size="7.5" text-anchor="middle" font-weight="normal" fill="#000" >月</text>
<polyline points="604.1,536.2 606.3,543.2 608.6,537.7 610.7,530.7 612.5,526.7 614.9,524.7 616.9,517.8 619.1,516.5 621.2,519.7 623.5,518.9 625.9,522 628.2,519.7 630.6,517.3 632.9,515 634.8,516.5 636.9,511.1 639.2,514.2 641.1,517.3 643.1,518.1 645.2,517.3 647,520.5 648.3,524.4 650.2,517.3 652.1,519.7 654.1,527.5 656.1,526 658.3,524.4 660.4,519.7 661.9,522.8 664,522.5 665.9,523.6 667.7,525.2 669.8,522.8 671.8,520.9 673.7,522.8 675.6,525.2 676.8,522.8 678.4,527.2 680,522 681.5,529.9 683.9,529.1 685.9,532.2 687.8,535.4 689.7,534.6 691.7,537.7 693.8,536.2 696,539.3 698,543.2 700.4,549.5 701.9,543.2 703.8,536.2 705.4,543.2 707.4,548.2 709.8,552.6 711.7,549.2 713.7,551.1 715.3,556.5 717.3,549.5 719.2,547.6 721.1,550.3 723.1,558.1 724.8,561.2 727,557 729.4,555 731.7,555.4 734.1,552.6 736.4,551.8 738.8,553.4 741.1,543.2 743,549.5 745.1,543.2 747.4,551.8 749.3,550.3 751.3,552.6 753.4,550.3 755.6,547.1 757.6,546.7 760,551.8 761.8,547.1 763.9,551.1 765,550.3 767.4,547.9 769.7,544.8 772.1,545.6 773.6,543.2 775.2,540.1 777.2,540.4 779.1,537.7 780.4,532.2 781.5,525.2 783,522.8 785.1,524.4 786.6,530.7 788.2,533.5 790.1,527.5 791.7,524.4 793.5,518.9 795.6,519.7 797.6,524.1 799.5,520.5 801.4,517.3 803.4,518.9 805.5,516.5 807.3,514.2 809.2,516.5 811.3,514.2 813.3,517.3 815.2,519.7 817.5,516.5 819.9,518.9 822.2,520.5 824.6,517.3 826.9,516.9 829.3,516.5 831.7,515.8 834,513.4 836.4,511.8 838.7,507.9 840.6,511.8 842.6,513.4 845,516.5 847.3,510.3 849.7,504.8 852,515.8 854.1,502.4 856,507.9 858.3,508.7 860.7,510.3 863,512.6 865.1,510.3 866.9,517.3 869.3,513.4 871.3,508.7 873.2,515 875.6,516.5 877.6,520.5 879.5,518.1 881.8,522.8 883.9,520.5 885.8,522 887.6,518.9 889.7,525.2 891.7,526.7 893.6,531.4 896,533.8 898.3,533 900.7,535.4 902.7,532.2 904.9,529.9 906.9,527.5 909,529.1 910.8,533 914,524.4 916.4,522.8 918.7,520.5 920.3,516.5 921.8,524.4 924.2,525.2 926.5,524.4 928.9,522.8 931.3,522.5" fill="none" stroke="#3f7cc4" stroke-width="2.6" stroke-linejoin="round" stroke-linecap="round" />
<polyline points="604.1,512.2 606.3,509.5 608.6,508.4 611.8,507.9 614.1,504.8 615.7,502.7 616.9,495.4 618,488 619.1,489.9 621.2,487.5 623.5,489.9 625.9,489.1 627.4,487.5 629.8,489.1 632.1,489.9 634.5,493.8 636.4,499.3 638.4,493 640.5,495.4 642.3,497.7 644.2,500.9 647,500.9 648.3,494.6 649.9,486.4 651.4,496.9 653.3,497.7 655.2,494.6 657.1,502.7 658.8,489.1 660.8,480.8 662.7,485.2 664.6,489.1 666.7,489.9 669,491.8 670.6,487.5 672.5,483.3 674.5,485.2 676.8,487.5 678.4,489.9 680,484.4 681.5,491.5 683.9,495.4 686.3,497.7 688.6,495.4 691,493.8 693.3,493.3 694.9,494.6 696.4,489.9 698,489.6 700.4,490.7 702.7,491.8 704.8,494.6 706.3,504.8 708.2,502.4 709.8,499.6 711.7,497.7 713.7,500.9 716.1,499 717.9,499.6 720,496.9 722.3,494.6 724.7,495.4 726.7,491.5 728.6,493.8 730.5,492.7 732.5,494.6 734.9,494.6 737.2,497.7 739.6,500.9 741.1,502.4 743.5,508.7 745.8,511.1 748.2,508.7 750.9,514.2 752.4,507.5 754.5,508.7 756.5,514.2 758.4,508.7 760.7,505.6 763.1,504 765,504.8 767.4,511.8 769.4,509.5 771.6,513.4 773.6,518.1 775.7,522.8 777.5,526 779.9,524.4 781.9,524.7 783.8,527.5 785.4,533 787,537.7 789.3,535.4 791.7,538.5 794,535.4 796.4,533.5 797.9,527.5 800.3,535.4 802.6,526.7 804.5,529.9 806.6,527.5 808.6,532.2 810.8,543.2 812.8,533 815.2,534.6 817.5,536.9 819.1,540.1 821.1,535.4 822.7,540.1 824.6,533 826.5,529.1 828.5,528.3 830.6,525.2 832.4,518.1 834.3,513.4 836.4,511.8 838.4,516.5 840.6,515 842.6,512.6 844.7,511.8 846.5,510.6 848.4,519.7 850.5,521.3 852.5,524.4 854.4,522.8 856.3,522 857.5,529.1 859.4,533.8 861.4,532.2 863.5,534.6 865.4,537.3 867.3,533 869.3,535.4 871.3,542 873.2,532.2 874.8,543.2 876.7,547.9 878.7,541.6 881.1,540.1 883.4,542.9 885.8,544 888.1,541.6 890.1,537.7 891.7,544.8 893.6,540.1 896,537.7 897.5,536.9 899.1,522 901.1,523.6 903,526 905.4,529.1 907.7,527.5 910.1,529.1 914,533.8 916.4,534.6 918.7,533 921.1,531.4 923.4,529.9 925.8,530.7 928.1,529.1 930.5,538.5 932.8,535.4 934.7,526.7 936.7,536.9 939.1,539.3 941.4,535.4 943.8,540.1 946.1,545.6 947.7,538.5 950.1,536.9 952.4,535.4 954.8,531.4 956.7,529.1 958.7,529.9 960.7,519.7 962.6,520.5 965,515 967.3,509.5 968.9,508.7 970.1,515 971.2,496.2 972.5,482.8 973.9,486.8 975.9,494.3 978,488.3 979.9,484.9 981.7,489.1 983.8,488.3 985.4,493.8 987.4,495.4 989,504.8 990.5,515 992.4,518.1 994.3,511.8 996.3,512.6 998.4,504 1000.3,517.3 1002.1,508.7 1004.2,507.1 1006.5,504.8 1008.9,507.1 1011.2,508.7 1013.6,512.6 1015.9,515 1018.3,513.4 1020.6,512.6 1022.5,511.8 1024.6,516.5 1026.6,521.3 1028.5,529.1 1030.8,529.9 1032.9,528.3 1035.5,536.9 1037.6,533 1039.5,531 1041.8,537.7 1044.2,538.5 1046.5,537.7 1048.9,538.5 1051.2,536.2 1053.3,536.2 1055.1,541.6 1057,544 1059.1,546.7 1060.6,536.2" fill="none" stroke="#c0403c" stroke-width="1.8" stroke-linejoin="round" stroke-linecap="round" />
<polyline points="604.1,533 606.3,535.4 608.2,540.1 609.7,542.4 611.3,535.4 612.5,533 614.1,542 615.7,532.2 617.3,524.4 619.6,525.2 621.6,522 623.2,513.4 625.1,513.1 627,510 629,509.5 630.6,512.6 632.9,516.5 635.3,515 636.4,512.6 637.6,522.8 638.4,528.8 640.8,529.1 642.3,529.9 643.9,526.7 645.8,531 647.8,538.2 649.4,535.4 651.8,533 654.1,529.1 656.5,528.8 658.8,529.9 660.8,524.4 662.7,525.2 664.3,519.7 666.2,511.8 668.2,515.8 670.6,518.9 672.5,516.5 674,508.7 676.1,499.3 678.4,498.5 680.8,500.1 683.1,494.6 685.3,485.2 687,493.8 689.1,499.3 690.6,510.3 692.5,513.4 694.9,515.3 696.9,517.3 698.2,523.6 699.7,518.9 701.2,513.1 702.7,516.5 704.8,516.5 706.6,507.9 708.2,514.2 709.8,507.1 711.7,515.8 713.7,504 715.3,500.9 717.3,511.8 718.9,504 721.1,500.9 723.1,503.2 724.7,507.9 727,505.6 728.6,502.4 730.2,482 731.4,502.4 733.3,513.4 735.2,505.6 737.2,503.2 739.6,501.7 741.1,496.9 743.5,496.9 745.5,499.6 748.2,510.3 750.6,499.3 752.9,502.4 755.3,506.4 756.8,504.8 758.7,508.7 760.7,507.1 763.1,504.8 765,505.6 767.4,507.9 769.4,507.1 771.3,502.4 773.2,508.7 775.2,510 777.2,510.3 779.1,511.8 780.7,522.8 783,521.3 785.4,519.7" fill="none" stroke="#93ba49" stroke-width="1.8" stroke-linejoin="round" stroke-linecap="round" />
<polyline points="790.1,525.6 792.4,527.5 794.8,526.7 797.1,529.1 799.5,539.3 801.4,533 803.4,528.3 805.8,525.6 808.1,526 810.5,525.2 812.8,529.1 815.2,528.8 817.5,527.8 819.9,527.5 821.8,538.5 823.8,522.8 825.4,520.5 827.7,523.6 830.1,524.7 831.7,520.5 833.2,515.3 835.3,519.7 837.1,524.4 839,529.1 841.1,525.2 843.1,533.5 845,532.2 847.3,530.7 849.7,529.9" fill="none" stroke="#93ba49" stroke-width="1.8" stroke-linejoin="round" stroke-linecap="round" />
<polyline points="854.4,529.1 856.7,533 859.1,526 861.4,525.6 863.5,524.1 865.4,529.1 867.3,526.7 869.3,530.7 871.3,524.4 873.2,522.8 874.8,538.5 876.7,543.2 878.7,542.4 880.7,539.3 882.6,547.9 884.5,552.6 886.5,547.9 888.6,551.1 890.5,548.7 892.8,553.4 895.2,545.6 897.5,547.9 899.6,551.4 901.4,550.3 903,547.9 904.9,555.8 906.9,558.9 908,535.4 909.3,529.1 911.2,528.8 914,527.5 916.4,526 918.7,524.1 921.1,529.1 923.4,540.1 925.8,535.4 928.1,529.1 930.5,533.8 932.5,533 934.7,541.6 936.7,532.2 938.8,527.5 940.7,540.1 943,535.4 945.4,531 947.7,533 950.1,541.6 952.4,536.9 954.8,547.9 957.1,555.8 959.2,558.1 961,544.8 962.9,537.7 965,543.2 967.3,542.4 969.7,539.3 971.2,533 972.8,529.1 973.9,513.4 975.9,515 978,518.1 979.9,525.2 982.2,521.3 984.6,520.5 986.5,519.7 988.5,512.6 990.5,511.8 992.4,518.1 994.3,520.5 995.9,513.4 997.9,511.8 999.9,511.5 1001.8,507.9 1004.2,507.1 1006.5,502.4 1008.1,500.9 1010.4,500.1 1012,499.3 1014.1,504 1015.9,508.7 1017.8,513.4 1019.4,507.1 1021.4,502.4 1023.8,501.7 1026.1,504 1028.2,508.7 1030.1,496.2 1031.9,500.1 1034,494.6 1036,489.9 1037.9,489.1 1040.2,489.9 1041.8,487.5 1043.4,486.4 1045.4,491.5 1047.3,500.1 1049.2,502.4 1051.2,504.8 1053.3,506.4 1055.1,507.9 1057,515 1059.1,513.1" fill="none" stroke="#93ba49" stroke-width="1.8" stroke-linejoin="round" stroke-linecap="round" />
<polyline points="604.1,521.6 606.3,522 608.6,523.6 611,520.5 612.5,519.7 614.4,522 615.7,525.2 616.6,533.8 618,538.5 620.4,541.6 622.7,544.8 624.8,546 627,542.4 629,545.6 630.9,548.7 632.6,538.5 634.5,537.7 636.4,535.4 638.4,536.2 641.1,536.9 643.1,533.5 644.7,531.4 646.3,531 648.3,533.8 650.2,531.4 652.5,530.7 654.1,532.5 656.5,530.7 658.8,531.4 661.2,530.7 662.7,525.2 665.1,523.6 667.4,525.2 669.8,521.3 671.8,520.5 673.7,526 676.1,533.5 678.4,532.2 680,528.3 681.9,533 683.9,533.8 685.9,535.4 687,541.6 689.1,543.2 690.6,544.8 692.5,549.2 694.9,549.8" fill="none" stroke="#7c55a4" stroke-width="1.8" stroke-linejoin="round" stroke-linecap="round" />
<polyline points="698,551.1 701.2,551.8 703.5,550.3 705.9,550 708.2,550.7 710.6,551.8 712.9,550.3 715.3,551.1 717.6,547.9 719.5,546.7 721.5,548.7 723.9,547.6 726.2,546.3 728.3,548.2" fill="none" stroke="#7c55a4" stroke-width="1.8" stroke-linejoin="round" stroke-linecap="round" />
<polyline points="732.5,547.9 734.1,544 736.1,546.3 738,544.8 739.9,547.6 741.9,550.3 744,547.1 745.8,544.8 747.7,549.5 749.8,555 750.9,558.1 752.4,552.6" fill="none" stroke="#7c55a4" stroke-width="1.8" stroke-linejoin="round" stroke-linecap="round" />
<polyline points="756.5,556.1 758.7,555.8 760.7,560.5 762.3,563.6 764.4,562.8 765,566.7 767.4,569.1 769.7,568.3 772.1,565.2 774.4,564.9 776.8,564.4 778.8,565.2 780.7,568.3 783,562.3 785.4,563.6 787.7,566.7 790.1,568 792.4,567.5 794.8,568.3 797.1,566.7 799.5,569.9 801.9,564.4 804.2,562.8 806.6,564.4 808.9,565.2 811.3,567 813.6,566 816,569.1 818.3,564.4 820.7,565.2 823,562.8 825.4,560.5 827.7,558.1 829.6,560.5 831.7,559.7 833.7,562.8 835.6,562 837.1,580.8 839.5,576.9 841.8,575.4 844.2,573.8 846.5,573.3 848.9,576.1 850.9,571.4 852.8,569.6 854.7,573 856.7,577.4 859.1,576.9 861.4,573.8 863.8,573 866.2,571.4 868.2,566 869.8,564.4 871.6,566 873.5,568.3 875.6,573 877.6,576.9 879.5,579 881.8,580.1 884.2,577.7 886.1,566.4 888.1,568.3 890.1,570.2 892,569.1 894.4,569.6 896.7,569.1 899.1,573 901.1,574.6 903,579 905.4,576.1 907.4,574.9 909,571.8 910.8,574.6 914,569.9 915.6,566.7 917.5,558.9 919.5,552.6 921.1,555.8 923.1,551.8 925,546.3 926.5,540.1 928.1,527.5 929.4,520.5 930.9,532.2 932.8,534.6 934.7,529.9 936.7,536.9 938.8,544 940.3,538.5 942.2,530.7 944.1,536.9 946.1,533.8 948.2,539.3 950.4,541.6 952.4,534.6 954.5,530.7 955.6,528.8 957.6,533.8 959.5,536.2 961.8,538.2 963.9,529.1 965.4,526.7 967.3,529.9 968.9,538.5 970.8,543.2 972.8,536.9 974.8,531 976.7,533 978.6,537.7 980.7,540.1 982.2,543.2 984.3,546.3 986.1,543.2 987.7,539.8 989.6,542.4" fill="none" stroke="#7c55a4" stroke-width="1.8" stroke-linejoin="round" stroke-linecap="round" />
<polyline points="994.8,533 996.3,536.9 998.7,538.5 1000.3,535.4 1002.1,528.8 1004.2,529.9 1006.5,530.7 1008.9,526.7 1010.9,525.2 1012.8,521.3 1014.4,516.5 1015.9,508.7 1017.5,499.3 1019.1,493.3 1020.6,496.9 1022.5,492.2 1024.6,496.2 1026.6,493.3 1027.7,499.3 1028.8,511.1 1030.4,501.7 1032.4,505.6 1034.8,507.5 1037.9,506.4 1039.5,509.5 1041.8,511.1 1043.9,515.8 1045.7,513.4 1047.6,517.3 1049.2,512.6 1050.8,516.5 1052.8,510.3 1054.4,516.5 1055.9,538.5" fill="none" stroke="#7c55a4" stroke-width="1.8" stroke-linejoin="round" stroke-linecap="round" />
<polyline points="604.1,475.5 606.6,487.5 608.6,477.3 610.2,473.4 612.2,475 614.1,472.6 615.7,473.4 617.6,468.7 619.4,465.3 621.3,472.6 623.5,471.9 625.1,472.6 627,477.3 629,481.3 631.4,488.3 632.3,486.4 635.3,492.7 637.6,488.3 640,491.5 642.3,495.4 644.7,497.7 647,498.5 649.4,497.7 651.8,502.4 654.1,507.1 656.5,512.6 658.3,516.5 659.6,510.3 661.5,504 662.7,505.6 664.6,499.3 666.7,507.1 668.4,513.1 670.3,510.3 672.1,506.4 674,510.3 676.1,505.6 677.6,500.9 680,491.5 681.5,496.9 683.1,504.8 684.7,507.5 687,507.5 689.1,507.1 690.6,499.3 692.5,497.7 694.1,495.4 696,491.5 698.2,483.6 700.4,486.8 702.7,489.9 704.3,492.7 705.9,494.6 707.4,500.9 709.8,502.1 711.7,500.9 713.7,501.7 715.3,504 716.8,502.4 718.9,499.3 721.1,502.4 723.1,502.1 724.7,500.1 726.2,493.8 728.6,493 730.5,494.3 732.5,489.6 733.6,494.6 735.7,500.9 737.2,503.2 739.6,500.9 741.9,504.8 744.3,507.1 745.8,510 746.8,503.2 748.7,508.7 750.2,505.6 752.1,503.7 754.5,503.2 756.8,502.4 759.2,499.3 761.2,494.6 763.1,497.7 765,499.3 767.4,500.9 769.4,497.4 771.3,499.3 773.2,497.7 775.2,504.8 777.2,506.4 779.4,506.4 781.5,511.8 783.8,508.7 786.2,505.6 788.5,503.2 790.4,497.7 792.6,492.7" fill="none" stroke="#38a9c9" stroke-width="1.8" stroke-linejoin="round" stroke-linecap="round" />
<polyline points="797.9,500.6 799.8,496.9 801.9,498.5 803.9,496.9 805.5,498.5 807,495.8 808.9,502.1 810.8,497.7 812.8,496.9 814.9,491.8 816.8,487.1 818.6,490.7 820.7,489.1 822.2,489.9 824.3,496.2 826.5,493.3 829,492.2 830.9,493.8 833.2,496.2 835.3,500.9 837.1,502.7 839,501.2 841.1,502.4 843.4,504 845.3,505.6 847.3,504.8 849.7,508.7 852.8,507.9 856,510.3 858.3,507.9 860.7,508.7 863,508.4 865.4,509 867.7,507.9 870.1,506.4 872.4,502.4 874.8,500.1 877.1,499.3 879.5,498 881.8,498.5 883.9,505.6 885.8,510 888.1,505.6 890.5,506.4 892.8,505.6 895.2,505.3 897.5,505.9 899.6,505.6 901.4,507.9 903.8,511.8 905.4,518.1 906.9,525.2 908.5,526 910.8,522.8 914,522 916.4,520.5 918.4,516.5 920.3,511.8 922.6,510.3 925,507.5 927.2,503.5 928.9,511.8 930.5,517.3 932.8,511.8 934.4,511.5 936.7,517.3 938.3,517.3 940.7,510.3 942.5,509.5 944.6,507.9 946.6,511.8 948.2,516.5 950.1,511.8 952.4,515 954.8,516.5 957.6,518.1" fill="none" stroke="#38a9c9" stroke-width="1.8" stroke-linejoin="round" stroke-linecap="round" />
<polyline points="961,510 963.4,512.6 965,515 967.3,511.1 969.7,510.6 972,509 974.4,512.6 976.4,511.8 978.3,510 980.7,513.4 982.2,516.5 984.6,516.2 986.9,518.1 989.3,519.7 991.6,520.5 994,522 995.5,524.4 997.9,523.6 999.9,525.2 1001.8,523.6 1004.2,522 1006.5,523.6 1008.9,525.2 1010.4,530.7 1012,533.8 1014.1,532.2 1015.9,535.4 1017.5,529.1 1019.4,519.7 1021.4,519.7 1023,520.5 1025,528.3 1026.9,522.8 1028.5,521.3 1030.8,524.7 1032.9,526.7 1034.8,525.2 1037.1,527.5 1039.5,526 1041.8,523.6 1044.2,524.4 1046.5,524.7 1048.9,521.3 1051.2,520.5 1053.6,519.7 1055.1,520.5 1057,524.4" fill="none" stroke="#38a9c9" stroke-width="1.8" stroke-linejoin="round" stroke-linecap="round" />
<text x="824" y="400" font-size="9.5" text-anchor="middle" font-weight="bold" fill="#000" textLength="101" lengthAdjust="spacingAndGlyphs" >近四年度中美期棉价差走势</text>
<rect x="698" y="419.7" width="15" height="2.6" fill="#3f7cc4"/>
<text x="713.5" y="424" font-size="8" text-anchor="start" font-weight="normal" fill="#000" textLength="27" lengthAdjust="spacingAndGlyphs" >1819年度</text>
<rect x="750" y="420.1" width="15" height="1.8" fill="#c0403c"/>
<text x="765.5" y="424" font-size="8" text-anchor="start" font-weight="normal" fill="#000" textLength="27" lengthAdjust="spacingAndGlyphs" >1718年度</text>
<rect x="803" y="420.1" width="15" height="1.8" fill="#93ba49"/>
<text x="818.5" y="424" font-size="8" text-anchor="start" font-weight="normal" fill="#000" textLength="27" lengthAdjust="spacingAndGlyphs" >1617年度</text>
<rect x="855" y="420.1" width="15" height="1.8" fill="#7c55a4"/>
<text x="870.5" y="424" font-size="8" text-anchor="start" font-weight="normal" fill="#000" textLength="27" lengthAdjust="spacingAndGlyphs" >1516年度</text>
<rect x="908" y="420.1" width="15" height="1.8" fill="#38a9c9"/>
<text x="923.5" y="424" font-size="8" text-anchor="start" font-weight="normal" fill="#000" textLength="27" lengthAdjust="spacingAndGlyphs" >1415年度</text>
</svg>
<svg width="1084" height="1353" viewBox="0 0 1084 1353" style="left:0;top:0">
<rect x="102.3" y="748" width="421.3" height="1" fill="#858585"/>
<text x="90.8" y="752.1" font-size="10" text-anchor="end" font-weight="normal" fill="#000" textLength="27" lengthAdjust="spacingAndGlyphs" >40000</text>
<rect x="102.3" y="765.9" width="421.3" height="1" fill="#858585"/>
<text x="90.8" y="770" font-size="10" text-anchor="end" font-weight="normal" fill="#000" textLength="27" lengthAdjust="spacingAndGlyphs" >35000</text>
<rect x="102.3" y="783.8" width="421.3" height="1" fill="#858585"/>
<text x="90.8" y="787.9" font-size="10" text-anchor="end" font-weight="normal" fill="#000" textLength="27" lengthAdjust="spacingAndGlyphs" >30000</text>
<rect x="102.3" y="801.7" width="421.3" height="1" fill="#858585"/>
<text x="90.8" y="805.8" font-size="10" text-anchor="end" font-weight="normal" fill="#000" textLength="27" lengthAdjust="spacingAndGlyphs" >25000</text>
<rect x="102.3" y="819.6" width="421.3" height="1" fill="#858585"/>
<text x="90.8" y="823.7" font-size="10" text-anchor="end" font-weight="normal" fill="#000" textLength="27" lengthAdjust="spacingAndGlyphs" >20000</text>
<rect x="102.3" y="837.5" width="421.3" height="1" fill="#858585"/>
<text x="90.8" y="841.6" font-size="10" text-anchor="end" font-weight="normal" fill="#000" textLength="27" lengthAdjust="spacingAndGlyphs" >15000</text>
<rect x="102.3" y="855.4" width="421.3" height="1" fill="#858585"/>
<text x="90.8" y="859.5" font-size="10" text-anchor="end" font-weight="normal" fill="#000" textLength="27" lengthAdjust="spacingAndGlyphs" >10000</text>
<rect x="102.3" y="873.3" width="421.3" height="1" fill="#858585"/>
<text x="90.8" y="877.4" font-size="10" text-anchor="end" font-weight="normal" fill="#000" textLength="22" lengthAdjust="spacingAndGlyphs" >5000</text>
<rect x="102.3" y="891.2" width="421.3" height="1" fill="#858585"/>
<text x="90.8" y="895.3" font-size="10" text-anchor="end" font-weight="normal" fill="#000" >0</text>
<rect x="101.8" y="748.5" width="1" height="143.2" fill="#858585"/>
<rect x="523.1" y="748.5" width="1" height="143.2" fill="#858585"/>
<rect x="523.6" y="748" width="4.5" height="1" fill="#858585"/>
<text x="534.8" y="752.1" font-size="10" text-anchor="start" font-weight="normal" fill="#000" textLength="17" lengthAdjust="spacingAndGlyphs" >100</text>
<rect x="523.6" y="776.64" width="4.5" height="1" fill="#858585"/>
<text x="534.8" y="780.74" font-size="10" text-anchor="start" font-weight="normal" fill="#000" textLength="11.5" lengthAdjust="spacingAndGlyphs" >90</text>
<rect x="523.6" y="805.28" width="4.5" height="1" fill="#858585"/>
<text x="534.8" y="809.38" font-size="10" text-anchor="start" font-weight="normal" fill="#000" textLength="11.5" lengthAdjust="spacingAndGlyphs" >80</text>
<rect x="523.6" y="833.92" width="4.5" height="1" fill="#858585"/>
<text x="534.8" y="838.02" font-size="10" text-anchor="start" font-weight="normal" fill="#000" textLength="11.5" lengthAdjust="spacingAndGlyphs" >70</text>
<rect x="523.6" y="862.56" width="4.5" height="1" fill="#858585"/>
<text x="534.8" y="866.66" font-size="10" text-anchor="start" font-weight="normal" fill="#000" textLength="11.5" lengthAdjust="spacingAndGlyphs" >60</text>
<rect x="523.6" y="891.2" width="4.5" height="1" fill="#858585"/>
<text x="534.8" y="895.3" font-size="10" text-anchor="start" font-weight="normal" fill="#000" textLength="11.5" lengthAdjust="spacingAndGlyphs" >50</text>
<text x="102.3" y="911" font-size="11" text-anchor="middle" font-weight="normal" fill="#000" textLength="45.5" lengthAdjust="spacingAndGlyphs" >18/01/02</text>
<text x="183.4" y="911" font-size="11" text-anchor="middle" font-weight="normal" fill="#000" textLength="45.5" lengthAdjust="spacingAndGlyphs" >18/04/02</text>
<text x="264.5" y="911" font-size="11" text-anchor="middle" font-weight="normal" fill="#000" textLength="45.5" lengthAdjust="spacingAndGlyphs" >18/07/02</text>
<text x="345.6" y="911" font-size="11" text-anchor="middle" font-weight="normal" fill="#000" textLength="45.5" lengthAdjust="spacingAndGlyphs" >18/10/02</text>
<text x="426.7" y="911" font-size="11" text-anchor="middle" font-weight="normal" fill="#000" textLength="45.5" lengthAdjust="spacingAndGlyphs" >19/01/02</text>
<text x="507.8" y="911" font-size="11" text-anchor="middle" font-weight="normal" fill="#000" textLength="45.5" lengthAdjust="spacingAndGlyphs" >19/04/02</text>
<polyline points="102.3,809.6 104.9,810.6 107,809.6 109.7,810 110.6,797.9 112.3,800.7 115.5,800 117.6,796.4 119.7,795.1 121.8,797.9 124,801.1 125.4,806.4 127.1,812.8 129.3,811.3 131.4,814.2 134.6,817 136.7,813.4 138.8,814.2 141.6,813.8 144.1,811.7 146.7,806.4 149.4,801.1 152.2,798.5 154.3,800 156.4,796.8 158.5,792.2 161.1,793 163.2,795.8 165.8,796.8 168.5,799 170.6,801.1 172.1,797.3 174.9,800 177,799.4 179.1,802.8 181.2,801.1 184.4,805.3 185.5,797.9 188.7,797.3 191.9,795.8 195,796.8 197.6,797.9 199.3,792.6 201.8,793.7 203.1,799 204.6,793.7 207.3,792.2 209.5,786.7 212,786.2 214.6,789.4 217.3,793 220.5,794.7 223,791.5 224.7,784.1 226.9,781.6 229.4,788.4 231.5,782 233.7,775.6 236.4,770.3 238.5,771.4 239.6,778.8 241.7,769.3 243.8,770.3 247,768.2 248.5,775.6 250.2,784.1 252.3,793.7 254.9,793 257,790.9 259.8,793 261.9,795.8 264,796.8 266.1,799 268.2,792.6 270.4,791.5 272.5,781.6 274.6,780.9 275,781.6 278.2,782 280.3,785.2 283.5,785.8 286,782 289.4,778.2 292,781.6 295.2,781.6 297.3,786.2 299.4,793 302.2,799 303.6,803.2 305.8,800 307.9,797.9 310.6,801.1 313.6,795.8 316.4,799 319.6,798.5 322.7,800.7 325.9,794.7 329.1,800 332.3,801.1 334.8,809.6 337.6,809.2 340.4,810.6 342.5,815.9 345,816.4 348.2,817 351.4,814.9 354.6,811.3 357.7,810.6 359.9,811.3 363.1,806.4 365.8,813.8 368.4,810.6 370.9,813.8 373.7,808.5 376.4,811.3 379,805.3 382.1,809.6 385.3,810.6 388.5,811.3 391.3,812.8 393.8,810.6 397,809.2 400.2,807.5 402.7,803.6 405.5,805.3 408.7,805.3 411.9,807.5 414,810.6 415.5,818.1 416.7,824.4 419.3,826.5 422.5,825.5 424.6,828.7 427.8,831.2 431,826.5 433.7,828.7 436.3,825.5 439.4,827.6 442.6,822.3 445.8,824 449,822.7 450,823 452.5,822.1 455,824.6 457.5,824.3 460,826.6 462.5,828.8 464.6,830.5 466.6,828.8 469.1,827.6 471.3,823.3 473.3,826.3 475.8,828.8 477.9,825 480.7,822.6 483.2,824.3 485.7,824.6 488.2,824.3 489.1,818.8 491.6,818.8 494,818 496.5,814.3 498.2,812.2 500.7,811.7 502.9,816 504.8,813.3 507.3,813.8 509.5,811.3 511.2,808.9 513.2,810.5 515.2,809.7 516.5,813.3 518.5,811.3 520.6,808.9 522.3,810.5 523.6,809.7" fill="none" stroke="#c0403c" stroke-width="2.8" stroke-linejoin="round" stroke-linecap="round" />
<polyline points="102.3,852.4 122.9,852.4 124,849.9 126.1,842.5 127.6,838.2 129.3,836.1 131,832.5 133.1,831.9 134.6,829.1 136.7,826.5 138.8,822.3 140.9,819.1 142.4,816.4 145.2,815.9 147.9,814.9 149.4,809.6 151.5,807 153.7,806.4 155.8,807.9 158.3,808.5 159,819.1 161.1,820.6 163.6,823.4 165.8,826.5 167.5,828.7 170,829.1 171.3,832.9 172.8,841.4 174.9,842.5 177.6,842.5 180.2,844.6 184.4,844.6 185.3,830.8 186.5,824.9 188.2,837.2 189.7,828.7 190.8,837.2 192.9,836.1 195,836.7 196.7,832.9 198.9,837.6 201.4,836.1 203.5,836.1 205.6,831.9 207.8,831.2 210.3,829.7 213.1,831.9 216.3,831.9 218.4,830.4 221.6,827 223.7,827.6 226.4,829.1 228.6,828.7 230.5,820.6 232.2,825.5 234.3,830.8 236.4,829.7 239.6,828.2 242.8,828.2 246,827.6 248.1,824.9 252.3,824.9 254.4,821.9 256.6,820.2 258.7,817 261.9,816.4 265.1,816.4 265.9,830.8 266.5,865.8 269.3,864.3 271.4,863.7 273.5,864.7 275,865.8 278.2,864.7 280.3,867.9 283.5,869 285.2,874.9 287.7,875.4 296.2,875.4 306.8,875.4 317.4,875.4 322.7,876 325.9,875.4 330.2,875.4 334.4,874.3 336.5,871.5 339.7,870 342.9,869 346.1,870.7 349.3,869 352.4,869 355.6,870 359.9,870.7 364.1,870.7 368.4,870 371.5,872.2 373.7,862.6 375.1,858.8 377.3,858.4 379,843.5 381.1,830.8 382.8,818.1 384.3,801.1 385.8,793.7 388.5,790.5 390,779.9 391.7,776.7 394.9,775.2 397,773.9 398.7,771 400.6,773.5 402.3,777.3 405.5,777.7 408.7,776.7 411.9,777.7 414,778.8 417.2,778.2 420.3,779.4 423.5,780.9 425.6,780.9 427.8,786.2 431,789.4 434.1,790.5 438.4,790.5 442.6,790.5 445.8,793 449,793.7 450,793.9 451.7,794.7 453.3,796.4 455,790.6 457.5,787.7 460,787.2 462.5,787.2 464.6,788.4 465.8,786.1 468.3,786.4 470.8,787.2 473.3,787.6 476.3,787.6 477.9,785.1 480.7,784.8 483.2,785.6 484.9,788.9 486.6,794.7 488.6,800 490.7,801.4 492.9,803 494.9,804.4 496.9,804.7 496.5,828 496.9,844.6 498.2,850.4 500.7,851.2 502.4,852.9 503.5,853.7 504.5,862.9 506.5,863.7 508.2,859.5 509.8,864.9 511.5,862.9 513.2,856.2 514.8,849.6 516.5,847.9 519,846.6 520.6,844.6 523.1,843.8" fill="none" stroke="#3f7cc4" stroke-width="2.8" stroke-linejoin="round" stroke-linecap="round" />
<rect x="182.3" y="716.9" width="31.9" height="2.2" fill="#3f7cc4"/>
<text x="216.5" y="721.3" font-size="14" text-anchor="start" font-weight="normal" fill="#000" textLength="101" lengthAdjust="spacingAndGlyphs" >美棉仓单（吨）</text>
<rect x="343" y="716.9" width="31.5" height="2.2" fill="#c0403c"/>
<text x="376.5" y="721.3" font-size="14" text-anchor="start" font-weight="normal" fill="#000" textLength="58.5" lengthAdjust="spacingAndGlyphs" >纽期价格</text>
</svg>
<svg width="1084" height="1353" viewBox="0 0 1084 1353" style="left:0;top:0">
<rect x="623.2" y="742.1" width="403.5" height="1" fill="#858585"/>
<text x="615.8" y="746.2" font-size="10" text-anchor="end" font-weight="normal" fill="#000" textLength="26.5" lengthAdjust="spacingAndGlyphs" >17500</text>
<rect x="623.2" y="761.075" width="403.5" height="1" fill="#858585"/>
<text x="615.8" y="765.175" font-size="10" text-anchor="end" font-weight="normal" fill="#000" textLength="26.5" lengthAdjust="spacingAndGlyphs" >17000</text>
<rect x="623.2" y="780.05" width="403.5" height="1" fill="#858585"/>
<text x="615.8" y="784.15" font-size="10" text-anchor="end" font-weight="normal" fill="#000" textLength="26.5" lengthAdjust="spacingAndGlyphs" >16500</text>
<rect x="623.2" y="799.025" width="403.5" height="1" fill="#858585"/>
<text x="615.8" y="803.125" font-size="10" text-anchor="end" font-weight="normal" fill="#000" textLength="26.5" lengthAdjust="spacingAndGlyphs" >16000</text>
<rect x="623.2" y="818" width="403.5" height="1" fill="#858585"/>
<text x="615.8" y="822.1" font-size="10" text-anchor="end" font-weight="normal" fill="#000" textLength="26.5" lengthAdjust="spacingAndGlyphs" >15500</text>
<rect x="623.2" y="836.975" width="403.5" height="1" fill="#858585"/>
<text x="615.8" y="841.075" font-size="10" text-anchor="end" font-weight="normal" fill="#000" textLength="26.5" lengthAdjust="spacingAndGlyphs" >15000</text>
<rect x="623.2" y="855.95" width="403.5" height="1" fill="#858585"/>
<text x="615.8" y="860.05" font-size="10" text-anchor="end" font-weight="normal" fill="#000" textLength="26.5" lengthAdjust="spacingAndGlyphs" >14500</text>
<rect x="623.2" y="874.925" width="403.5" height="1" fill="#858585"/>
<text x="615.8" y="879.025" font-size="10" text-anchor="end" font-weight="normal" fill="#000" textLength="26.5" lengthAdjust="spacingAndGlyphs" >14000</text>
<rect x="623.2" y="893.9" width="403.5" height="1" fill="#858585"/>
<text x="615.8" y="898" font-size="10" text-anchor="end" font-weight="normal" fill="#000" textLength="26.5" lengthAdjust="spacingAndGlyphs" >13500</text>
<rect x="627.2" y="742.6" width="1" height="151.8" fill="#858585"/>
<rect x="1026.2" y="742.6" width="1" height="151.8" fill="#858585"/>
<rect x="1026.7" y="742.1" width="4.5" height="1" fill="#858585"/>
<text x="1037.6" y="746.2" font-size="10" text-anchor="start" font-weight="normal" fill="#000" textLength="32" lengthAdjust="spacingAndGlyphs" >800000</text>
<rect x="1026.7" y="763.786" width="4.5" height="1" fill="#858585"/>
<text x="1037.6" y="767.886" font-size="10" text-anchor="start" font-weight="normal" fill="#000" textLength="32" lengthAdjust="spacingAndGlyphs" >700000</text>
<rect x="1026.7" y="785.471" width="4.5" height="1" fill="#858585"/>
<text x="1037.6" y="789.571" font-size="10" text-anchor="start" font-weight="normal" fill="#000" textLength="32" lengthAdjust="spacingAndGlyphs" >600000</text>
<rect x="1026.7" y="807.157" width="4.5" height="1" fill="#858585"/>
<text x="1037.6" y="811.257" font-size="10" text-anchor="start" font-weight="normal" fill="#000" textLength="32" lengthAdjust="spacingAndGlyphs" >500000</text>
<rect x="1026.7" y="828.843" width="4.5" height="1" fill="#858585"/>
<text x="1037.6" y="832.943" font-size="10" text-anchor="start" font-weight="normal" fill="#000" textLength="32" lengthAdjust="spacingAndGlyphs" >400000</text>
<rect x="1026.7" y="850.529" width="4.5" height="1" fill="#858585"/>
<text x="1037.6" y="854.629" font-size="10" text-anchor="start" font-weight="normal" fill="#000" textLength="32" lengthAdjust="spacingAndGlyphs" >300000</text>
<rect x="1026.7" y="872.214" width="4.5" height="1" fill="#858585"/>
<text x="1037.6" y="876.314" font-size="10" text-anchor="start" font-weight="normal" fill="#000" textLength="32" lengthAdjust="spacingAndGlyphs" >200000</text>
<rect x="1026.7" y="893.9" width="4.5" height="1" fill="#858585"/>
<text x="1037.6" y="898" font-size="10" text-anchor="start" font-weight="normal" fill="#000" textLength="32" lengthAdjust="spacingAndGlyphs" >100000</text>
<rect x="627.3" y="894.4" width="1" height="3" fill="#858585"/>
<text x="628.3" y="911" font-size="10" text-anchor="middle" font-weight="normal" fill="#000" textLength="39.5" lengthAdjust="spacingAndGlyphs" >18/09/03</text>
<rect x="678.3" y="894.4" width="1" height="3" fill="#858585"/>
<text x="679.3" y="911" font-size="10" text-anchor="middle" font-weight="normal" fill="#000" textLength="39.5" lengthAdjust="spacingAndGlyphs" >18/10/03</text>
<rect x="731.3" y="894.4" width="1" height="3" fill="#858585"/>
<text x="732.3" y="911" font-size="10" text-anchor="middle" font-weight="normal" fill="#000" textLength="39.5" lengthAdjust="spacingAndGlyphs" >18/11/03</text>
<rect x="782.9" y="894.4" width="1" height="3" fill="#858585"/>
<text x="783.9" y="911" font-size="10" text-anchor="middle" font-weight="normal" fill="#000" textLength="39.5" lengthAdjust="spacingAndGlyphs" >18/12/03</text>
<rect x="836.7" y="894.4" width="1" height="3" fill="#858585"/>
<text x="837.7" y="911" font-size="10" text-anchor="middle" font-weight="normal" fill="#000" textLength="39.5" lengthAdjust="spacingAndGlyphs" >19/01/03</text>
<rect x="889.1" y="894.4" width="1" height="3" fill="#858585"/>
<text x="890.1" y="911" font-size="10" text-anchor="middle" font-weight="normal" fill="#000" textLength="39.5" lengthAdjust="spacingAndGlyphs" >19/02/03</text>
<rect x="937.5" y="894.4" width="1" height="3" fill="#858585"/>
<text x="938.5" y="911" font-size="10" text-anchor="middle" font-weight="normal" fill="#000" textLength="39.5" lengthAdjust="spacingAndGlyphs" >19/03/03</text>
<rect x="990.6" y="894.4" width="1" height="3" fill="#858585"/>
<text x="991.6" y="911" font-size="10" text-anchor="middle" font-weight="normal" fill="#000" textLength="39.5" lengthAdjust="spacingAndGlyphs" >19/04/03</text>
<polyline points="627.7,766.1 629,777.7 631.1,774.6 633.2,775.6 634.7,780.5 636.8,777.7 639,775.6 641.7,777.7 644.3,776.1 646,776.7 646.8,780.3 650.6,780.3 653.2,782.4 654.4,786.2 655.5,802.8 657,793 659.1,794.7 662.3,796.8 665.1,799 667.2,799 668.7,807.5 669.7,812.1 674,812.8 678.2,813.8 682.5,814.9 686.7,815.5 689.9,815.5 692,819.1 693.5,827 694.8,814.2 697.3,814.2 699.4,814.2 701.5,817.6 703.7,818.1 705.4,821.2 706.4,829.7 709,827.6 711.7,825.5 713.9,823.8 715.6,823.4 717.5,831.9 719.6,838.2 721.7,841.4 724.5,845.6 726.6,840.3 729.1,843.5 730.4,833.3 733.4,834 736.6,834.6 738,839.3 739.7,842.5 741.9,837.2 743.6,836.1 746.1,840.3 748.2,843.5 750.4,845.6 752.5,842.5 755,838.9 757.8,840.3 759.9,841.4 761.6,845.6 763.1,824.4 765.2,828.7 768.4,832.9 771.1,836.7 773.7,839.7 776.2,836.1 779,832.9 782.2,829.1 784.7,826.5 786.4,829.1 788.5,828.7 790,831.9 793.2,828.7 796.4,824.4 798.5,821.9 801,824.9 802.7,822.9 805.9,822.9 808.7,822.9 810.2,829.7 811.6,830.8 813.3,828.2 815.5,830.8 818.6,833.3 820.8,835 821.4,849.9 823.9,845.2 826.5,842.5 830.3,841.8 833.5,841.4 836.3,841 837.7,842.5 839.9,839.3 843,836.7 845.6,834.6 848.3,831.9 850.5,831.2 853.7,832.5 857.5,832.5 859.6,835.5 861.1,827 863.2,827.6 866,824.9 868.5,823.4 869.8,830.8 871.7,832.5 873.8,830.4 875.9,827.6 879.1,827.6 881.7,827.6 884.4,824.9 887.2,828.2 889.7,828.7 894,829.1 898.2,829.7 902.5,830.2 905.6,830.4 907.3,836.7 909.9,837.6 913.1,837.2 916.2,835 917.7,824 919.9,822.3 921.5,826.5 923.2,814.2 925.8,818.5 928.3,823.4 930,827.6 931.7,830.4 933.9,829.7 936,824 938.5,824.4 941.1,824 942.8,828.2 945.3,821.9 947.4,828.2 950.2,830.8 953,832.5 955.5,826.5 957.6,828.7 959.7,830.8 962.9,829.1 964,827.1 966,828 967.3,824.3 969,825 971,823.8 973.1,825.5 974.8,827.1 977,828.3 978.6,829.3 980.3,832.1 982,835.4 983.6,836.6 985.6,835.9 988.6,834.6 989.3,824.6 990.3,813.8 991.4,812.7 993.6,813.3 995.6,812.2 998.1,810.5 1000.6,809.3 1002.6,807.2 1004.7,803.9 1006.9,803 1008.9,801.4 1010.9,797.2 1012.5,795.1 1013.9,801.4 1015.5,804.7 1017.5,807.2 1019.7,806 1022.2,805 1024.7,804.7 1026.7,803.9" fill="none" stroke="#3f7cc4" stroke-width="2.8" stroke-linejoin="round" stroke-linecap="round" />
<polyline points="627.7,818.1 631.5,818.5 635.8,819.5 640,820.2 644.3,820.6 648.5,822.3 652.7,822.7 655.9,824 659.1,826.1 663.4,826.5 667.2,827 670.8,829.3 675,829.7 679.3,830.2 683.5,830.4 687.8,830.4 690.9,831.2 694.8,833.3 698.4,833.6 702.6,834 706.9,835.5 711.1,836.1 715.3,837.2 718.5,837.6 722.8,838.4 727,839.3 729.6,839.9 730.8,836.1 734.4,836.1 737.6,834.6 741.4,834 742.9,832.5 746.1,833.3 748.7,833.3 751.4,830.4 754.6,824.9 757.8,824.4 761,824 763.5,821.2 766.3,817.6 769,817.6 772,818.5 774.8,816.4 776.9,813.4 779,807.5 782.2,807 784.7,806.4 786.8,804.3 789.6,802.1 790,799 793.2,797.3 796.4,795.8 799.5,793 802.3,789.4 805.3,789.4 808.7,788.8 812.3,787.9 814.4,784.5 817.6,784.1 820.8,785.2 823.9,785.2 827.8,787.3 831.4,786.7 834.6,785.8 837.7,785.2 839.9,783.7 842.6,784.1 845.2,784.1 847.7,781.6 850.5,782 853.7,782 856.8,782.4 860,780.9 863.2,776.7 866.4,776.3 870.2,776.7 873.8,773.9 877,773.5 881.2,773.5 883.4,768.8 886.5,767.6 890.8,767.1 896.1,766.7 901.4,766.5 906.7,766.1 909.9,766.7 912,767.6 915.2,766.7 918.4,768.2 921.5,768.2 924.7,767.1 927.9,767.1 931.7,766.1 934.3,767.1 937.5,767.1 940.6,766.7 943.8,768.2 947,768.8 950.2,769.3 953.4,769.3 956.6,768.2 959.7,768.2 962.9,767.6 964,767.3 966.5,768.1 969,767.8 971,766.5 973.1,767.3 975.6,769.5 978.6,768.1 980.6,769.8 983.1,771.5 985.6,771.1 988.1,770.6 990.6,770.1 993.1,768.5 995.6,768.1 998.1,767.6 1000.6,767.3 1002.6,767 1004.7,765.6 1007.5,764.8 1009.7,763.5 1012.2,761.5 1014.7,758.2 1017.2,756.5 1019.7,754.5 1022.2,754 1024.7,753.5 1025.8,753.2" fill="none" stroke="#c0403c" stroke-width="2.8" stroke-linejoin="round" stroke-linecap="round" />
<rect x="733.5" y="715.4" width="27.5" height="2.2" fill="#3f7cc4"/>
<text x="763.5" y="720.5" font-size="12" text-anchor="start" font-weight="normal" fill="#000" textLength="50.5" lengthAdjust="spacingAndGlyphs" >郑棉价格</text>
<rect x="832" y="715.4" width="26.5" height="2.2" fill="#c0403c"/>
<text x="861" y="720.5" font-size="12" text-anchor="start" font-weight="normal" fill="#000" textLength="58.5" lengthAdjust="spacingAndGlyphs" >仓单（吨）</text>
</svg>
<svg width="1084" height="1353" viewBox="0 0 1084 1353" style="left:0;top:0">
<path d="M129.93 1075.9V1105.9M136.06 1075.9V1098.2M148.31 1075.9V1080.4M154.44 1075.9V1082.7M160.57 1075.9V1084.2M166.70 1075.9V1093.5M172.83 1075.9V1092.5M178.96 1075.9V1090.8M185.09 1075.9V1093.0M191.22 1075.9V1095.9M197.35 1075.9V1108.5M203.48 1075.9V1112.6M209.61 1075.9V1118.0M215.74 1075.9V1124.9M221.87 1075.9V1132.5M228.00 1075.9V1135.4M234.13 1075.9V1136.9M240.26 1075.9V1136.9M246.39 1075.9V1128.7M252.52 1075.9V1122.3M258.65 1075.9V1114.6M264.78 1075.9V1094.9M270.91 1075.9V1094.4M277.04 1075.9V1093.4M283.17 1075.9V1092.2M289.30 1075.9V1091.6M295.43 1075.9V1097.3M301.56 1075.9V1103.1M307.69 1075.9V1103.6M313.82 1075.9V1103.6M319.95 1075.9V1099.6M326.08 1075.9V1083.7M332.21 1068.0V1075.9M338.34 1052.3V1075.9M350.60 1051.1V1075.9M356.73 1047.8V1075.9M362.86 1047.4V1075.9M368.99 1053.9V1075.9M375.12 1058.3V1075.9M381.25 1055.8V1075.9M387.38 1051.2V1075.9M393.51 1049.7V1075.9M399.64 1052.0V1075.9M405.77 1066.2V1075.9M418.03 1075.9V1087.0M424.16 1075.9V1092.3M430.29 1075.9V1095.0M436.42 1075.9V1099.1M442.55 1075.9V1102.6M448.68 1075.9V1103.6M460.94 1075.9V1103.6M467.07 1075.9V1103.6M473.20 1075.9V1103.6M479.33 1075.9V1103.0M485.46 1075.9V1102.6M491.59 1075.9V1100.1M497.72 1075.9V1097.7M503.85 1075.9V1093.4M509.98 1075.9V1092.0" stroke="#dfe9c8" stroke-width="0.9" fill="none"/>
<path d="M125.86 1075.9V1104.3M127.86 1075.9V1107.8M131.99 1075.9V1103.1M133.99 1075.9V1101.1M138.12 1075.9V1093.4M140.12 1075.9V1092.0M146.25 1075.9V1083.3M150.38 1075.9V1082.3M152.38 1075.9V1082.3M156.51 1075.9V1084.1M158.51 1075.9V1084.2M162.64 1075.9V1085.6M164.64 1075.9V1093.5M168.77 1075.9V1093.5M170.77 1075.9V1093.5M174.90 1075.9V1091.1M176.90 1075.9V1089.5M181.03 1075.9V1092.4M183.03 1075.9V1093.0M187.16 1075.9V1093.0M189.16 1075.9V1093.0M193.29 1075.9V1103.2M195.29 1075.9V1107.1M199.42 1075.9V1109.1M201.42 1075.9V1109.6M205.55 1075.9V1115.0M207.55 1075.9V1117.0M211.68 1075.9V1119.0M213.68 1075.9V1121.5M217.81 1075.9V1129.0M219.81 1075.9V1132.3M223.94 1075.9V1132.8M225.94 1075.9V1133.0M230.07 1075.9V1136.9M232.07 1075.9V1136.9M236.20 1075.9V1136.9M238.20 1075.9V1136.9M242.33 1075.9V1136.9M244.33 1075.9V1134.8M248.46 1075.9V1125.3M250.46 1075.9V1122.3M254.59 1075.9V1122.7M256.59 1075.9V1120.9M260.72 1075.9V1102.2M262.72 1075.9V1094.9M266.85 1075.9V1094.9M268.85 1075.9V1094.9M272.98 1075.9V1093.8M274.98 1075.9V1093.6M279.11 1075.9V1093.1M281.11 1075.9V1092.8M285.24 1075.9V1091.6M287.24 1075.9V1091.1M291.37 1075.9V1092.4M293.37 1075.9V1093.7M297.50 1075.9V1100.5M299.50 1075.9V1102.5M303.63 1075.9V1103.6M305.63 1075.9V1103.6M309.76 1075.9V1103.6M311.76 1075.9V1103.6M315.89 1075.9V1103.2M317.89 1075.9V1102.2M322.02 1075.9V1095.3M324.02 1075.9V1089.9M330.15 1070.8V1075.9M334.28 1065.1V1075.9M336.28 1061.2V1075.9M346.54 1051.7V1075.9M348.54 1051.7V1075.9M352.67 1049.5V1075.9M354.67 1047.9V1075.9M358.80 1047.7V1075.9M360.80 1047.2V1075.9M364.93 1048.6V1075.9M366.93 1051.8V1075.9M371.06 1056.0V1075.9M373.06 1057.4V1075.9M377.19 1058.6V1075.9M379.19 1057.5V1075.9M383.32 1053.9V1075.9M385.32 1052.6V1075.9M389.45 1049.9V1075.9M391.45 1049.5V1075.9M395.58 1050.2V1075.9M397.58 1051.0V1075.9M401.71 1055.9V1075.9M403.71 1061.4V1075.9M407.84 1070.2V1075.9M409.84 1073.6V1075.9M413.97 1075.9V1079.5M415.97 1075.9V1082.5M420.10 1075.9V1092.0M422.10 1075.9V1092.0M426.23 1075.9V1093.9M428.23 1075.9V1093.9M432.36 1075.9V1095.9M434.36 1075.9V1095.9M438.49 1075.9V1100.7M440.49 1075.9V1100.7M444.62 1075.9V1103.6M446.62 1075.9V1103.6M456.88 1075.9V1103.6M458.88 1075.9V1103.6M463.01 1075.9V1103.6M465.01 1075.9V1103.6M469.14 1075.9V1103.6M471.14 1075.9V1103.6M475.27 1075.9V1103.6M477.27 1075.9V1103.6M481.40 1075.9V1102.6M483.40 1075.9V1102.6M487.53 1075.9V1101.8M489.53 1075.9V1101.0M493.66 1075.9V1099.3M495.66 1075.9V1098.5M499.79 1075.9V1097.2M501.79 1075.9V1096.3M505.92 1075.9V1092.0M507.92 1075.9V1092.0" stroke="#92b94a" stroke-width="2.05" fill="none"/>
<path d="M103.4 1070.3V1075.9M108.2 1072.6V1075.9M110.9 1074.2V1075.9" stroke="#92b94a" stroke-width="2.6" fill="none"/>
<rect x="101" y="1014" width="1" height="139.4" fill="#858585"/>
<rect x="512.5" y="1014" width="1" height="139.4" fill="#858585"/>
<rect x="101.5" y="1152.9" width="411.5" height="1" fill="#858585"/>
<rect x="97" y="1032" width="4.5" height="1" fill="#858585"/>
<text x="91.5" y="1036.2" font-size="10.3" text-anchor="end" font-weight="normal" fill="#000" textLength="29.6" lengthAdjust="spacingAndGlyphs" >24500</text>
<rect x="97" y="1056.18" width="4.5" height="1" fill="#858585"/>
<text x="91.5" y="1060.38" font-size="10.3" text-anchor="end" font-weight="normal" fill="#000" textLength="29.6" lengthAdjust="spacingAndGlyphs" >24000</text>
<rect x="97" y="1080.36" width="4.5" height="1" fill="#858585"/>
<text x="91.5" y="1084.56" font-size="10.3" text-anchor="end" font-weight="normal" fill="#000" textLength="29.6" lengthAdjust="spacingAndGlyphs" >23500</text>
<rect x="97" y="1104.54" width="4.5" height="1" fill="#858585"/>
<text x="91.5" y="1108.74" font-size="10.3" text-anchor="end" font-weight="normal" fill="#000" textLength="29.6" lengthAdjust="spacingAndGlyphs" >23000</text>
<rect x="97" y="1128.72" width="4.5" height="1" fill="#858585"/>
<text x="91.5" y="1132.92" font-size="10.3" text-anchor="end" font-weight="normal" fill="#000" textLength="29.6" lengthAdjust="spacingAndGlyphs" >22500</text>
<rect x="97" y="1152.9" width="4.5" height="1" fill="#858585"/>
<text x="91.5" y="1157.1" font-size="10.3" text-anchor="end" font-weight="normal" fill="#000" textLength="29.6" lengthAdjust="spacingAndGlyphs" >22000</text>
<rect x="513" y="1013.1" width="3.5" height="1" fill="#858585"/>
<text x="523.6" y="1017.3" font-size="10.3" text-anchor="start" font-weight="normal" fill="#000" textLength="18" lengthAdjust="spacingAndGlyphs" >800</text>
<rect x="513" y="1028.61" width="3.5" height="1" fill="#858585"/>
<text x="523.6" y="1032.81" font-size="10.3" text-anchor="start" font-weight="normal" fill="#000" textLength="18" lengthAdjust="spacingAndGlyphs" >600</text>
<rect x="513" y="1044.12" width="3.5" height="1" fill="#858585"/>
<text x="523.6" y="1048.32" font-size="10.3" text-anchor="start" font-weight="normal" fill="#000" textLength="18" lengthAdjust="spacingAndGlyphs" >400</text>
<rect x="513" y="1059.63" width="3.5" height="1" fill="#858585"/>
<text x="523.6" y="1063.83" font-size="10.3" text-anchor="start" font-weight="normal" fill="#000" textLength="18" lengthAdjust="spacingAndGlyphs" >200</text>
<rect x="513" y="1075.14" width="3.5" height="1" fill="#858585"/>
<text x="523.6" y="1079.34" font-size="10.3" text-anchor="start" font-weight="normal" fill="#000" textLength="6" lengthAdjust="spacingAndGlyphs" >0</text>
<rect x="513" y="1090.66" width="3.5" height="1" fill="#858585"/>
<text x="523.6" y="1094.86" font-size="10.3" text-anchor="start" font-weight="normal" fill="#000" textLength="23" lengthAdjust="spacingAndGlyphs" >-200</text>
<rect x="513" y="1106.17" width="3.5" height="1" fill="#858585"/>
<text x="523.6" y="1110.37" font-size="10.3" text-anchor="start" font-weight="normal" fill="#000" textLength="23" lengthAdjust="spacingAndGlyphs" >-400</text>
<rect x="513" y="1121.68" width="3.5" height="1" fill="#858585"/>
<text x="523.6" y="1125.88" font-size="10.3" text-anchor="start" font-weight="normal" fill="#000" textLength="23" lengthAdjust="spacingAndGlyphs" >-600</text>
<rect x="513" y="1137.19" width="3.5" height="1" fill="#858585"/>
<text x="523.6" y="1141.39" font-size="10.3" text-anchor="start" font-weight="normal" fill="#000" textLength="23" lengthAdjust="spacingAndGlyphs" >-800</text>
<rect x="513" y="1152.7" width="3.5" height="1" fill="#858585"/>
<text x="523.6" y="1156.9" font-size="10.3" text-anchor="start" font-weight="normal" fill="#000" textLength="27" lengthAdjust="spacingAndGlyphs" >-1000</text>
<rect x="101" y="1153.4" width="1" height="3.5" fill="#858585"/>
<text x="101.9" y="1170" font-size="10.3" text-anchor="middle" font-weight="normal" fill="#000" textLength="31.5" lengthAdjust="spacingAndGlyphs" >18/1/2</text>
<rect x="152.3" y="1153.4" width="1" height="3.5" fill="#858585"/>
<text x="153.2" y="1170" font-size="10.3" text-anchor="middle" font-weight="normal" fill="#000" textLength="31.5" lengthAdjust="spacingAndGlyphs" >18/3/2</text>
<rect x="205.8" y="1153.4" width="1" height="3.5" fill="#858585"/>
<text x="206.7" y="1170" font-size="10.3" text-anchor="middle" font-weight="normal" fill="#000" textLength="31.5" lengthAdjust="spacingAndGlyphs" >18/5/2</text>
<rect x="259.4" y="1153.4" width="1" height="3.5" fill="#858585"/>
<text x="260.3" y="1170" font-size="10.3" text-anchor="middle" font-weight="normal" fill="#000" textLength="31.5" lengthAdjust="spacingAndGlyphs" >18/7/2</text>
<rect x="313.2" y="1153.4" width="1" height="3.5" fill="#858585"/>
<text x="314.1" y="1170" font-size="10.3" text-anchor="middle" font-weight="normal" fill="#000" textLength="31.5" lengthAdjust="spacingAndGlyphs" >18/9/2</text>
<rect x="367.1" y="1153.4" width="1" height="3.5" fill="#858585"/>
<text x="368" y="1170" font-size="10.3" text-anchor="middle" font-weight="normal" fill="#000" textLength="38" lengthAdjust="spacingAndGlyphs" >18/11/2</text>
<rect x="419.7" y="1153.4" width="1" height="3.5" fill="#858585"/>
<text x="420.6" y="1170" font-size="10.3" text-anchor="middle" font-weight="normal" fill="#000" textLength="31.5" lengthAdjust="spacingAndGlyphs" >19/1/2</text>
<rect x="471.8" y="1153.4" width="1" height="3.5" fill="#858585"/>
<text x="472.7" y="1170" font-size="10.3" text-anchor="middle" font-weight="normal" fill="#000" textLength="31.5" lengthAdjust="spacingAndGlyphs" >19/3/2</text>
<polyline points="101.5,1110.4 108.3,1110.4 111.2,1107.5 113.1,1107.1 126.7,1107.1 129.6,1103.6 132.5,1102.6 134,1098.2 136.4,1095.5 138.3,1094.3 149.9,1094.3 151.9,1091 154.2,1090 157.3,1089.1 159.6,1085.2 162.5,1083.8 175.1,1083.8 178,1085.2 180.9,1087.1 184.8,1087.7 188.7,1088.5 192.9,1089.1 194.5,1093 197.4,1093.3 210,1093.3 213.9,1094.3 218.7,1095.3 248.7,1095.3 252.6,1095.9 255,1095.9 258.9,1096.8 262.7,1097.8 266.6,1098.2 270.5,1099.3 274.4,1101.3 278.2,1102.1 284.1,1102.6 287.9,1103.6 291.8,1104.6 299.6,1105.5 307.3,1105.5 313.1,1105 317,1104.6 319.9,1102.6 322.4,1101.3 323.8,1095.9 325.7,1093 328.2,1089.1 329.6,1086.6 332.5,1085.8 336.4,1085.2 350.9,1085.2 353.8,1083.8 364.5,1083.8 367,1086.6 370.3,1088.1 373.2,1090 376.1,1091 380.9,1092 386.7,1093 393.5,1093 396.4,1093.9 400.3,1095.9 404.2,1096.8 408,1098.2 411.5,1100.1 416.8,1100.7 418.7,1102.1 420,1102.3 423.9,1104 427.7,1105.2 432.6,1106.3 474.2,1106.3 477.1,1105.5 486.8,1105.2 489.7,1103.6 493.6,1102.1 496.5,1100.7 513,1100.7" fill="none" stroke="#c0403c" stroke-width="2.8" stroke-linejoin="round" stroke-linecap="round" />
<polyline points="101.5,1114.3 105.8,1114.3 106.9,1113.3 109.2,1112.9 111.2,1109.4 113.1,1107.1 125.7,1107.1 127.1,1085.2 129.6,1084.8 132.1,1084.8 133.5,1080.7 137.9,1080.7 140.2,1085.2 143.1,1086.6 146.1,1088.1 150.9,1088.1 152.8,1086.2 155.4,1085.2 157.7,1081.3 160.6,1079.4 163.1,1077.5 165.8,1072.6 169.3,1072.6 171.2,1073.6 175.5,1073.6 177,1076.1 180.9,1076.1 184.8,1076.9 190.6,1076.9 192.9,1074.9 195.5,1072.6 199.3,1072.6 202.2,1070.3 206.1,1070.3 208,1067.8 211,1067.8 212.9,1066.4 214.2,1063.9 217.3,1063.3 218.7,1059.1 226.4,1059.1 229.4,1057.1 243.9,1057.1 245.2,1062 247.8,1063.9 249.7,1066.8 253.6,1066.8 255,1067.2 257.9,1069.7 260.4,1073.6 261.8,1079.4 262.7,1085.2 265.7,1085.8 268.6,1088.1 271.5,1089.1 274.4,1091 280.2,1091.4 284.1,1093 287.9,1094.3 293.7,1094.3 296.7,1091 298.6,1089.1 302.5,1088.1 305.4,1086.6 309.2,1085.8 313.1,1084.6 321.8,1084.6 325.7,1085.8 328.2,1089.1 330.6,1091 333.5,1093 335.4,1095.9 337.3,1100.1 340.2,1101.3 345.1,1101.7 348,1100.7 358.6,1100.7 361.5,1101.7 377,1101.7 380,1104.6 382.9,1105.9 386.7,1107.5 390.6,1109.8 402.2,1109.8 403.8,1105.5 406.1,1103.2 409,1101.7 411.9,1099.7 414.8,1097.4 417.7,1095.9 420,1095.9 425.8,1094.3 431.6,1093.5 435.5,1092.4 439.4,1091 442.3,1090 444.2,1089.1 476.2,1089.1 480.1,1088.1 488.8,1088.1 492.1,1087.1 498.5,1087.1 501.4,1089.7 505.2,1091 509.1,1092 513,1092.6" fill="none" stroke="#3f7cc4" stroke-width="2.8" stroke-linejoin="round" stroke-linecap="round" />
<rect x="134.4" y="986" width="28" height="6.6" fill="#9bbb59"/>
<text x="165.8" y="993.5" font-size="12" text-anchor="start" font-weight="normal" fill="#000" textLength="103" lengthAdjust="spacingAndGlyphs" >中国-印度（C32S）</text>
<rect x="293.7" y="988" width="30.1" height="2.4" fill="#c0403c"/>
<text x="325.7" y="993.5" font-size="12" text-anchor="start" font-weight="normal" fill="#000" textLength="53" lengthAdjust="spacingAndGlyphs" >国产C32S</text>
<rect x="398.4" y="988" width="28" height="2.4" fill="#3f7cc4"/>
<text x="428.5" y="993.5" font-size="12" text-anchor="start" font-weight="normal" fill="#000" textLength="53" lengthAdjust="spacingAndGlyphs" >印度C32S</text>
</svg>
<svg width="1084" height="1353" viewBox="0 0 1084 1353" style="left:0;top:0">
<rect x="648.2" y="1012.2" width="1" height="142.2" fill="#858585"/>
<rect x="648.7" y="1153.9" width="367.9" height="1" fill="#858585"/>
<rect x="645.2" y="1011.7" width="3.5" height="1" fill="#858585"/>
<text x="639" y="1016" font-size="10" text-anchor="end" font-weight="normal" fill="#000" textLength="10.3" lengthAdjust="spacingAndGlyphs" >35</text>
<rect x="645.2" y="1032.01" width="3.5" height="1" fill="#858585"/>
<text x="639" y="1036.31" font-size="10" text-anchor="end" font-weight="normal" fill="#000" textLength="10.3" lengthAdjust="spacingAndGlyphs" >30</text>
<rect x="645.2" y="1052.33" width="3.5" height="1" fill="#858585"/>
<text x="639" y="1056.63" font-size="10" text-anchor="end" font-weight="normal" fill="#000" textLength="10.3" lengthAdjust="spacingAndGlyphs" >25</text>
<rect x="645.2" y="1072.64" width="3.5" height="1" fill="#858585"/>
<text x="639" y="1076.94" font-size="10" text-anchor="end" font-weight="normal" fill="#000" textLength="10.3" lengthAdjust="spacingAndGlyphs" >20</text>
<rect x="645.2" y="1092.96" width="3.5" height="1" fill="#858585"/>
<text x="639" y="1097.26" font-size="10" text-anchor="end" font-weight="normal" fill="#000" textLength="10.3" lengthAdjust="spacingAndGlyphs" >15</text>
<rect x="645.2" y="1113.27" width="3.5" height="1" fill="#858585"/>
<text x="639" y="1117.57" font-size="10" text-anchor="end" font-weight="normal" fill="#000" textLength="10.3" lengthAdjust="spacingAndGlyphs" >10</text>
<rect x="645.2" y="1133.59" width="3.5" height="1" fill="#858585"/>
<text x="639" y="1137.89" font-size="10" text-anchor="end" font-weight="normal" fill="#000" textLength="5.2" lengthAdjust="spacingAndGlyphs" >5</text>
<rect x="645.2" y="1153.9" width="3.5" height="1" fill="#858585"/>
<text x="639" y="1158.2" font-size="10" text-anchor="end" font-weight="normal" fill="#000" textLength="5.2" lengthAdjust="spacingAndGlyphs" >0</text>
<rect x="648.2" y="1154.4" width="1" height="3.5" fill="#858585"/>
<text x="648.7" y="1169.3" font-size="10" text-anchor="middle" font-weight="normal" fill="#000" textLength="31.6" lengthAdjust="spacingAndGlyphs" >13/8/19</text>
<rect x="712.9" y="1154.4" width="1" height="3.5" fill="#858585"/>
<text x="713.4" y="1169.3" font-size="10" text-anchor="middle" font-weight="normal" fill="#000" textLength="31.6" lengthAdjust="spacingAndGlyphs" >14/8/19</text>
<rect x="777.8" y="1154.4" width="1" height="3.5" fill="#858585"/>
<text x="778.3" y="1169.3" font-size="10" text-anchor="middle" font-weight="normal" fill="#000" textLength="31.6" lengthAdjust="spacingAndGlyphs" >15/8/19</text>
<rect x="842.7" y="1154.4" width="1" height="3.5" fill="#858585"/>
<text x="843.2" y="1169.3" font-size="10" text-anchor="middle" font-weight="normal" fill="#000" textLength="31.6" lengthAdjust="spacingAndGlyphs" >16/8/19</text>
<rect x="907.6" y="1154.4" width="1" height="3.5" fill="#858585"/>
<text x="908.1" y="1169.3" font-size="10" text-anchor="middle" font-weight="normal" fill="#000" textLength="31.6" lengthAdjust="spacingAndGlyphs" >17/8/19</text>
<rect x="972.5" y="1154.4" width="1" height="3.5" fill="#858585"/>
<text x="973" y="1169.3" font-size="10" text-anchor="middle" font-weight="normal" fill="#000" textLength="31.6" lengthAdjust="spacingAndGlyphs" >18/8/19</text>
<polyline points="648.7,1028.1 651,1026.1 653.9,1029.6 656.4,1032.9 658.7,1032.9 661.7,1031.5 664.6,1030 668,1029.6 670.8,1028.4 673.3,1030 676.2,1030.6 679.1,1029.6 682,1029 684.9,1027.1 687.8,1024.6 690.7,1023.2 693.6,1023.6 695.9,1025.1 698.5,1024.8 701.4,1023.8 704.3,1023.6 707.2,1023.2 711.1,1023.6 714,1024.6 716.9,1026.1 719.8,1027.1 722.7,1028.4 725.6,1029.6 728.5,1030 731.4,1031.5 734.3,1031 737.2,1032.3 740.1,1033.9 743,1034.8 745,1041.6 745.9,1052.9 747.5,1046.5 749.4,1042.6 751.3,1041.2 753.7,1044.5 756,1048.4 758.5,1052.9 761,1051.7 763.4,1049.4 766.3,1047.8 769.2,1045.5 772.1,1041.6 775,1039.3 777.3,1035.4 779.8,1034.4 782.7,1035.4 785.6,1036.2 787.6,1037.4 789.5,1040.6 792.4,1040.6 795.3,1039.3 797.8,1040.6 800.2,1040.3 802.1,1041.6 804,1043.9 806,1045.5 807.5,1051.3 809.9,1051.7 811.8,1051.3 813.7,1053.2 815.7,1057.1 818.6,1060 820,1062 822.9,1065.8 825.8,1064.5 828.7,1062.9 831.6,1060 834.5,1058.1 837,1057.5 839.4,1059.4 841.7,1056.1 844.2,1053.2 846.2,1051.7 848.7,1052.3 850.6,1058.1 852.9,1062 854.9,1065.8 857.8,1063.3 860.7,1063.3 863.6,1062 867.5,1062 871.3,1062 875.2,1062 877.1,1064.5 879.1,1066.8 881.6,1063.9 883.9,1062 886.8,1061.4 889.7,1059.1 892.6,1055.6 895.6,1052.3 897.9,1049.4 900.4,1045.1 903.3,1045.1 905.2,1042.6 907.6,1042.2 909.1,1045.5 911.1,1049.4 913,1055.2 914.9,1060.6 916.9,1062 919.2,1061.4 921.1,1059.1 923.6,1054.8 926.2,1052.3 928.5,1050.9 930.8,1047.4 933.3,1043.9 936.2,1043.6 939.1,1041.2 943,1041.2 945,1044.5 947.5,1047.8 948.8,1053.2 950.8,1058.1 953.3,1062 955.6,1063.9 957.5,1063.9 958.7,1065.8 960.5,1061 963,1057.1 965.3,1053.2 967.2,1046.5 969.6,1041.2 972.1,1040.8 974.6,1041.2 976.5,1044.5 978.9,1046.8 981.2,1045.5 982.7,1038.7 983.7,1034.8 986.2,1031.9 988.5,1030.4 991.4,1029.6 994,1029.2 996.3,1031 998.2,1033.9 1000.6,1036.8 1002.5,1034.8 1004.4,1035.4 1006.4,1041.6 1008.3,1043.2 1009.9,1043.6 1011.8,1047.4 1013.7,1051.3 1015.7,1050.9" fill="none" stroke="#93ba49" stroke-width="2.2" stroke-linejoin="round" stroke-linecap="round" />
<polyline points="648.7,1049.4 651.4,1049 652.9,1046.5 654.5,1053.2 656.4,1056.1 658.7,1055.6 661.1,1054.2 664.2,1053.2 667.5,1052.3 670,1053.2 673.3,1053.2 675.2,1051.9 677.7,1056.7 679.1,1064.5 680.4,1063.9 681.6,1060 683,1062.5 684.9,1059.1 686.8,1055.2 689.4,1049.4 692.1,1047.8 694.6,1048 697.5,1049.8 699.8,1047.4 702.3,1046.5 705.2,1045.1 708.1,1045.9 711.1,1046.8 714,1049.4 715.9,1051.9 718.8,1053.2 721.1,1054.8 723.6,1057.1 726.2,1058.7 728.5,1058.1 730.8,1058.7 733.3,1056.1 735.3,1055.2 736.2,1053.2 738.2,1054.2 740.1,1051.3 741.3,1049.4 743,1054.8 744.6,1061 745.9,1080.4 747.5,1080.4 748.2,1068.7 750.8,1063.9 752.7,1068.7 754.6,1078.4 756.6,1086.2 758.5,1087.7 761,1084.2 763,1081.9 764.3,1080.7 766.3,1075.5 768.8,1070.7 771.1,1067.2 773.4,1064.9 776,1061.4 778.9,1060 781.2,1060.6 782.7,1062.5 785.1,1062 786.6,1065.8 788.5,1071.6 790.5,1068.7 792.8,1064.5 795.3,1060 797.3,1058.1 799.2,1056.1 801.1,1049.4 803.1,1054.8 805,1060 806,1062 807.5,1070.7 810.8,1070.7 812.8,1074.2 814.7,1079.4 817.2,1086.2 819.5,1086.6 820,1086.2 821.5,1090 822.9,1096.8 824.3,1097.8 825.8,1093.9 828.7,1090.4 831.6,1088.1 834.5,1085.8 836.5,1093 838.4,1099.3 839.8,1100.1 841.7,1093.9 844.2,1088.1 847.1,1085.8 849.4,1089.1 851,1099.7 852.9,1103.2 855.3,1100.7 857.2,1095.9 858.7,1094.9 860.7,1094.3 863,1093 865.5,1092 868.4,1091 870,1092 871.3,1096.8 873.3,1094.9 875.2,1091 877.1,1091.6 878.5,1095.9 880.1,1094.9 882,1080.4 883.5,1074.9 884.9,1093 886.8,1090 888.8,1082.3 890.1,1075.5 891.7,1072.6 892.6,1086.6 894.6,1081.3 896.5,1082.3 897.5,1087.7 899.4,1084.2 901.4,1088.1 903.3,1085.2 905.2,1080.7 906.8,1079.4 908.7,1085.2 911.1,1089.1 912.6,1092 914,1099.7 915.3,1102.6 917.3,1101.7 918.4,1098.2 919.8,1101.7 921.7,1096.8 923.6,1093.9 926.2,1090.4 928.1,1088.1 930,1083.3 931.4,1080 933.3,1083.3 935.3,1086.2 936.6,1088.1 938.6,1093 940.5,1086.2 942.4,1080.7 945,1081.3 946.9,1083.8 950.8,1084.2 951.7,1092 953.3,1100.7 955.6,1101.7 957.5,1105.9 959.1,1109.8 961,1104.6 963.4,1097.8 965.3,1091 966.8,1086.2 969.2,1083.3 971.1,1081.3 973,1087.1 975,1093 976.9,1098.8 978.9,1099.3 980.8,1092 982.7,1088.1 984.7,1083.3 986.6,1078.4 988.2,1073.6 989.5,1075.5 991.4,1069.7 993.4,1070.7 995.3,1072.6 997.3,1074.9 999.2,1076.5 1000.6,1081.3 1002.1,1085.8 1004,1081.3 1005,1079.4 1006.4,1085.2 1008.3,1087.7 1010.2,1085.2 1012.8,1081.9 1015.7,1078" fill="none" stroke="#c0403c" stroke-width="2.2" stroke-linejoin="round" stroke-linecap="round" />
<rect x="710.7" y="988.1" width="23.6" height="1.8" fill="#c0403c"/>
<text x="736.2" y="993" font-size="11" text-anchor="start" font-weight="normal" fill="#000" textLength="77.5" lengthAdjust="spacingAndGlyphs" >纱线库存R（天）</text>
<rect x="836.5" y="988.1" width="23.8" height="1.8" fill="#93ba49"/>
<text x="862.6" y="993" font-size="11" text-anchor="start" font-weight="normal" fill="#000" textLength="77" lengthAdjust="spacingAndGlyphs" >坯布库存R（天）</text>
</svg>
</body>
</html>
